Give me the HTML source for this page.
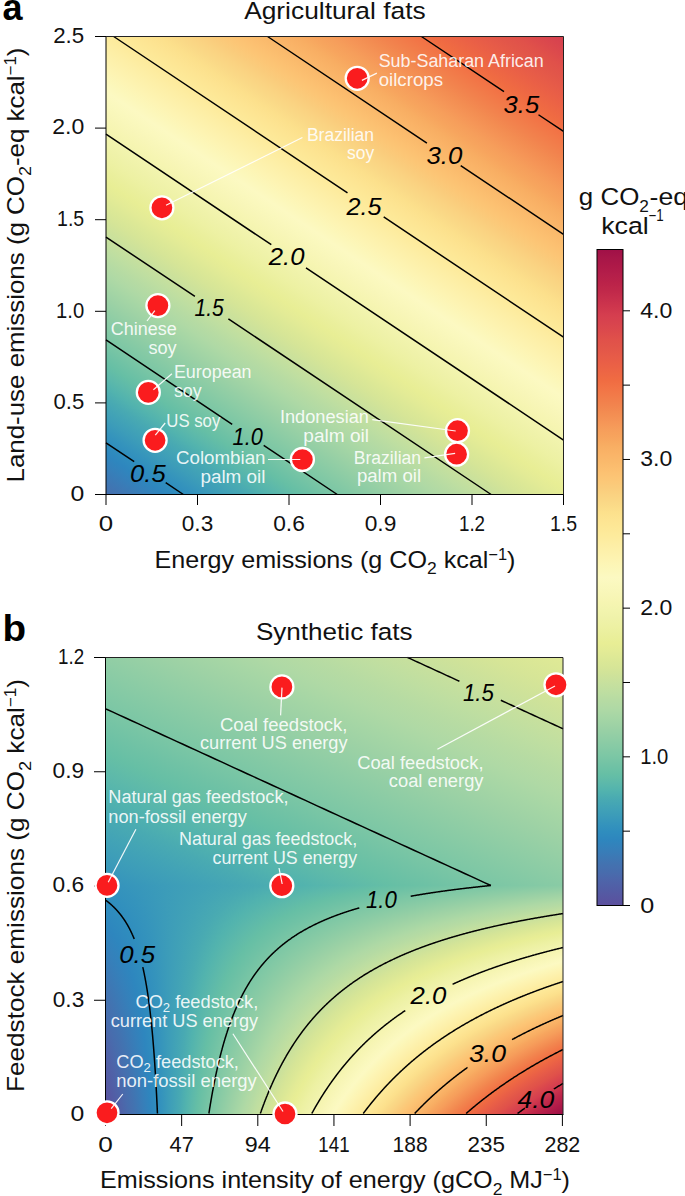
<!DOCTYPE html><html><head><meta charset="utf-8"><style>html,body{margin:0;padding:0;background:#fff;}svg{display:block;}text{font-family:"Liberation Sans",sans-serif;}</style></head><body>
<svg width="685" height="1196" viewBox="0 0 685 1196">
<rect width="685" height="1196" fill="#fff"/>
<defs>
<linearGradient id="cm" gradientUnits="userSpaceOnUse" x1="0" y1="0" x2="1" y2="0">
<stop offset="0.0000" stop-color="#5c509e"/>
<stop offset="0.0125" stop-color="#5756a1"/>
<stop offset="0.0250" stop-color="#525da5"/>
<stop offset="0.0375" stop-color="#4e64a9"/>
<stop offset="0.0500" stop-color="#486cad"/>
<stop offset="0.0625" stop-color="#4372b0"/>
<stop offset="0.0750" stop-color="#3c79b5"/>
<stop offset="0.0875" stop-color="#3580ba"/>
<stop offset="0.1000" stop-color="#2e86be"/>
<stop offset="0.1125" stop-color="#2f8dbe"/>
<stop offset="0.1250" stop-color="#3594bc"/>
<stop offset="0.1375" stop-color="#3c9cb9"/>
<stop offset="0.1500" stop-color="#42a3b6"/>
<stop offset="0.1625" stop-color="#49aab2"/>
<stop offset="0.1750" stop-color="#52b3ae"/>
<stop offset="0.1875" stop-color="#5db9aa"/>
<stop offset="0.2000" stop-color="#66bfa5"/>
<stop offset="0.2125" stop-color="#70c2a5"/>
<stop offset="0.2250" stop-color="#7ac6a5"/>
<stop offset="0.2375" stop-color="#83c9a5"/>
<stop offset="0.2500" stop-color="#8ccca5"/>
<stop offset="0.2625" stop-color="#95cfa5"/>
<stop offset="0.2750" stop-color="#9ed2a5"/>
<stop offset="0.2875" stop-color="#a6d6a5"/>
<stop offset="0.3000" stop-color="#afd9a5"/>
<stop offset="0.3125" stop-color="#b6dba3"/>
<stop offset="0.3250" stop-color="#bedea1"/>
<stop offset="0.3375" stop-color="#c6e09e"/>
<stop offset="0.3500" stop-color="#cee29a"/>
<stop offset="0.3625" stop-color="#d6e597"/>
<stop offset="0.3750" stop-color="#dce896"/>
<stop offset="0.3875" stop-color="#e3eb96"/>
<stop offset="0.4000" stop-color="#e8ee95"/>
<stop offset="0.4125" stop-color="#eaef9c"/>
<stop offset="0.4250" stop-color="#edf1a3"/>
<stop offset="0.4375" stop-color="#eff2a9"/>
<stop offset="0.4500" stop-color="#f2f4ae"/>
<stop offset="0.4625" stop-color="#f6f5b2"/>
<stop offset="0.4750" stop-color="#f8f6b8"/>
<stop offset="0.4875" stop-color="#faf8bd"/>
<stop offset="0.5000" stop-color="#fcf9c2"/>
<stop offset="0.5125" stop-color="#fcf7ba"/>
<stop offset="0.5250" stop-color="#fdf4b3"/>
<stop offset="0.5375" stop-color="#fdf1ac"/>
<stop offset="0.5500" stop-color="#fdeea5"/>
<stop offset="0.5625" stop-color="#fdeb9d"/>
<stop offset="0.5750" stop-color="#fde897"/>
<stop offset="0.5875" stop-color="#fde492"/>
<stop offset="0.6000" stop-color="#fce08c"/>
<stop offset="0.6125" stop-color="#fad987"/>
<stop offset="0.6250" stop-color="#fad382"/>
<stop offset="0.6375" stop-color="#facc7c"/>
<stop offset="0.6500" stop-color="#fcc676"/>
<stop offset="0.6625" stop-color="#fcc071"/>
<stop offset="0.6750" stop-color="#faba6c"/>
<stop offset="0.6875" stop-color="#fab468"/>
<stop offset="0.7000" stop-color="#f8ae63"/>
<stop offset="0.7125" stop-color="#f7a55e"/>
<stop offset="0.7250" stop-color="#f69e5b"/>
<stop offset="0.7375" stop-color="#f59557"/>
<stop offset="0.7500" stop-color="#f38d52"/>
<stop offset="0.7625" stop-color="#f2844e"/>
<stop offset="0.7750" stop-color="#f27c4a"/>
<stop offset="0.7875" stop-color="#f27446"/>
<stop offset="0.8000" stop-color="#f06c42"/>
<stop offset="0.8125" stop-color="#ed6644"/>
<stop offset="0.8250" stop-color="#ea6046"/>
<stop offset="0.8375" stop-color="#e65b48"/>
<stop offset="0.8500" stop-color="#e25649"/>
<stop offset="0.8625" stop-color="#e0514a"/>
<stop offset="0.8750" stop-color="#dc4a4c"/>
<stop offset="0.8875" stop-color="#d8444e"/>
<stop offset="0.9000" stop-color="#d53e4f"/>
<stop offset="0.9125" stop-color="#ce364d"/>
<stop offset="0.9250" stop-color="#c72f4c"/>
<stop offset="0.9375" stop-color="#c0284a"/>
<stop offset="0.9500" stop-color="#ba2249"/>
<stop offset="0.9625" stop-color="#b41e4a"/>
<stop offset="0.9750" stop-color="#ae1948"/>
<stop offset="0.9875" stop-color="#a71648"/>
<stop offset="1.0000" stop-color="#a01047"/>
</linearGradient>
<linearGradient id="ga" href="#cm" gradientUnits="userSpaceOnUse" x1="82.24" y1="529.75" x2="501.58" y2="-97.6"/>
<linearGradient id="gc" href="#cm" gradientUnits="userSpaceOnUse" x1="0" y1="905.5" x2="0" y2="249.5"/>
<linearGradient id="r0" href="#cm" x1="-833.9" x2="2818.02"/>
<linearGradient id="r1" href="#cm" x1="-831.72" x2="2820.2"/>
<linearGradient id="r2" href="#cm" x1="-829.54" x2="2822.38"/>
<linearGradient id="r3" href="#cm" x1="-827.36" x2="2824.56"/>
<linearGradient id="r4" href="#cm" x1="-825.17" x2="2826.74"/>
<linearGradient id="r5" href="#cm" x1="-822.99" x2="2828.92"/>
<linearGradient id="r6" href="#cm" x1="-820.81" x2="2831.1"/>
<linearGradient id="r7" href="#cm" x1="-818.63" x2="2833.28"/>
<linearGradient id="r8" href="#cm" x1="-816.45" x2="2835.46"/>
<linearGradient id="r9" href="#cm" x1="-814.27" x2="2837.64"/>
<linearGradient id="r10" href="#cm" x1="-812.09" x2="2839.82"/>
<linearGradient id="r11" href="#cm" x1="-809.91" x2="2842"/>
<linearGradient id="r12" href="#cm" x1="-807.73" x2="2844.18"/>
<linearGradient id="r13" href="#cm" x1="-805.55" x2="2846.36"/>
<linearGradient id="r14" href="#cm" x1="-803.37" x2="2848.54"/>
<linearGradient id="r15" href="#cm" x1="-801.19" x2="2850.72"/>
<linearGradient id="r16" href="#cm" x1="-799.01" x2="2852.9"/>
<linearGradient id="r17" href="#cm" x1="-796.83" x2="2855.08"/>
<linearGradient id="r18" href="#cm" x1="-794.65" x2="2857.26"/>
<linearGradient id="r19" href="#cm" x1="-792.47" x2="2859.44"/>
<linearGradient id="r20" href="#cm" x1="-790.29" x2="2861.62"/>
<linearGradient id="r21" href="#cm" x1="-788.11" x2="2863.8"/>
<linearGradient id="r22" href="#cm" x1="-785.93" x2="2865.98"/>
<linearGradient id="r23" href="#cm" x1="-783.75" x2="2868.16"/>
<linearGradient id="r24" href="#cm" x1="-781.57" x2="2870.34"/>
<linearGradient id="r25" href="#cm" x1="-779.39" x2="2872.52"/>
<linearGradient id="r26" href="#cm" x1="-777.21" x2="2874.7"/>
<linearGradient id="r27" href="#cm" x1="-775.03" x2="2876.88"/>
<linearGradient id="r28" href="#cm" x1="-772.85" x2="2879.06"/>
<linearGradient id="r29" href="#cm" x1="-770.67" x2="2881.24"/>
<linearGradient id="r30" href="#cm" x1="-768.49" x2="2883.42"/>
<linearGradient id="r31" href="#cm" x1="-766.31" x2="2885.6"/>
<linearGradient id="r32" href="#cm" x1="-764.13" x2="2887.78"/>
<linearGradient id="r33" href="#cm" x1="-761.95" x2="2889.96"/>
<linearGradient id="r34" href="#cm" x1="-759.77" x2="2892.14"/>
<linearGradient id="r35" href="#cm" x1="-757.59" x2="2894.32"/>
<linearGradient id="r36" href="#cm" x1="-755.41" x2="2896.5"/>
<linearGradient id="r37" href="#cm" x1="-753.23" x2="2898.68"/>
<linearGradient id="r38" href="#cm" x1="-751.05" x2="2900.87"/>
<linearGradient id="r39" href="#cm" x1="-748.87" x2="2903.05"/>
<linearGradient id="r40" href="#cm" x1="-746.69" x2="2905.23"/>
<linearGradient id="r41" href="#cm" x1="-744.51" x2="2907.41"/>
<linearGradient id="r42" href="#cm" x1="-742.33" x2="2909.59"/>
<linearGradient id="r43" href="#cm" x1="-740.15" x2="2911.77"/>
<linearGradient id="r44" href="#cm" x1="-737.97" x2="2913.95"/>
<linearGradient id="r45" href="#cm" x1="-735.79" x2="2916.13"/>
<linearGradient id="r46" href="#cm" x1="-733.6" x2="2918.31"/>
<linearGradient id="r47" href="#cm" x1="-731.42" x2="2920.49"/>
<linearGradient id="r48" href="#cm" x1="-729.24" x2="2922.67"/>
<linearGradient id="r49" href="#cm" x1="-727.06" x2="2924.85"/>
<linearGradient id="r50" href="#cm" x1="-724.88" x2="2927.03"/>
<linearGradient id="r51" href="#cm" x1="-722.7" x2="2929.21"/>
<linearGradient id="r52" href="#cm" x1="-720.52" x2="2931.39"/>
<linearGradient id="r53" href="#cm" x1="-718.34" x2="2933.57"/>
<linearGradient id="r54" href="#cm" x1="-716.16" x2="2935.75"/>
<linearGradient id="r55" href="#cm" x1="-713.98" x2="2937.93"/>
<linearGradient id="r56" href="#cm" x1="-711.8" x2="2940.11"/>
<linearGradient id="r57" href="#cm" x1="-709.62" x2="2942.29"/>
<linearGradient id="r58" href="#cm" x1="-707.44" x2="2944.47"/>
<linearGradient id="r59" href="#cm" x1="-705.26" x2="2946.65"/>
<linearGradient id="r60" href="#cm" x1="-703.08" x2="2948.83"/>
<linearGradient id="r61" href="#cm" x1="-700.9" x2="2951.01"/>
<linearGradient id="r62" href="#cm" x1="-698.72" x2="2953.19"/>
<linearGradient id="r63" href="#cm" x1="-696.54" x2="2955.37"/>
<linearGradient id="r64" href="#cm" x1="-694.36" x2="2957.55"/>
<linearGradient id="r65" href="#cm" x1="-692.18" x2="2959.73"/>
<linearGradient id="r66" href="#cm" x1="-690" x2="2961.91"/>
<linearGradient id="r67" href="#cm" x1="-687.82" x2="2964.09"/>
<linearGradient id="r68" href="#cm" x1="-685.64" x2="2966.27"/>
<linearGradient id="r69" href="#cm" x1="-683.46" x2="2968.45"/>
<linearGradient id="r70" href="#cm" x1="-681.28" x2="2970.63"/>
<linearGradient id="r71" href="#cm" x1="-679.1" x2="2972.81"/>
<linearGradient id="r72" href="#cm" x1="-676.92" x2="2974.99"/>
<linearGradient id="r73" href="#cm" x1="-674.74" x2="2977.17"/>
<linearGradient id="r74" href="#cm" x1="-672.56" x2="2979.35"/>
<linearGradient id="r75" href="#cm" x1="-670.38" x2="2981.53"/>
<linearGradient id="r76" href="#cm" x1="-668.2" x2="2983.71"/>
<linearGradient id="r77" href="#cm" x1="-666.02" x2="2985.89"/>
<linearGradient id="r78" href="#cm" x1="-663.84" x2="2988.07"/>
<linearGradient id="r79" href="#cm" x1="-661.66" x2="2990.26"/>
<linearGradient id="r80" href="#cm" x1="-659.48" x2="2992.44"/>
<linearGradient id="r81" href="#cm" x1="-657.3" x2="2994.62"/>
<linearGradient id="r82" href="#cm" x1="-655.12" x2="2996.8"/>
<linearGradient id="r83" href="#cm" x1="-652.94" x2="2998.98"/>
<linearGradient id="r84" href="#cm" x1="-650.76" x2="3001.16"/>
<linearGradient id="r85" href="#cm" x1="-648.58" x2="3003.34"/>
<linearGradient id="r86" href="#cm" x1="-646.4" x2="3005.52"/>
<linearGradient id="r87" href="#cm" x1="-644.21" x2="3007.7"/>
<linearGradient id="r88" href="#cm" x1="-642.03" x2="3009.88"/>
<linearGradient id="r89" href="#cm" x1="-639.85" x2="3012.06"/>
<linearGradient id="r90" href="#cm" x1="-637.67" x2="3014.24"/>
<linearGradient id="r91" href="#cm" x1="-635.49" x2="3016.42"/>
<linearGradient id="r92" href="#cm" x1="-633.31" x2="3018.6"/>
<linearGradient id="r93" href="#cm" x1="-631.13" x2="3020.78"/>
<linearGradient id="r94" href="#cm" x1="-628.95" x2="3022.96"/>
<linearGradient id="r95" href="#cm" x1="-626.77" x2="3025.14"/>
<linearGradient id="r96" href="#cm" x1="-624.59" x2="3027.32"/>
<linearGradient id="r97" href="#cm" x1="-622.41" x2="3029.5"/>
<linearGradient id="r98" href="#cm" x1="-620.23" x2="3031.68"/>
<linearGradient id="r99" href="#cm" x1="-618.05" x2="3033.86"/>
<linearGradient id="r100" href="#cm" x1="-615.87" x2="3036.04"/>
<linearGradient id="r101" href="#cm" x1="-613.69" x2="3038.22"/>
<linearGradient id="r102" href="#cm" x1="-611.51" x2="3040.4"/>
<linearGradient id="r103" href="#cm" x1="-609.33" x2="3042.58"/>
<linearGradient id="r104" href="#cm" x1="-607.15" x2="3044.76"/>
<linearGradient id="r105" href="#cm" x1="-604.97" x2="3046.94"/>
<linearGradient id="r106" href="#cm" x1="-602.79" x2="3049.12"/>
<linearGradient id="r107" href="#cm" x1="-600.61" x2="3051.3"/>
<linearGradient id="r108" href="#cm" x1="-598.43" x2="3053.48"/>
<linearGradient id="r109" href="#cm" x1="-596.25" x2="3055.66"/>
<linearGradient id="r110" href="#cm" x1="-594.07" x2="3057.84"/>
<linearGradient id="r111" href="#cm" x1="-591.89" x2="3060.02"/>
<linearGradient id="r112" href="#cm" x1="-589.71" x2="3062.2"/>
<linearGradient id="r113" href="#cm" x1="-587.53" x2="3064.38"/>
<linearGradient id="r114" href="#cm" x1="-585.35" x2="3066.56"/>
<linearGradient id="r115" href="#cm" x1="-583.17" x2="3068.74"/>
<linearGradient id="r116" href="#cm" x1="-580.99" x2="3070.92"/>
<linearGradient id="r117" href="#cm" x1="-578.81" x2="3073.1"/>
<linearGradient id="r118" href="#cm" x1="-576.63" x2="3075.28"/>
<linearGradient id="r119" href="#cm" x1="-574.45" x2="3077.46"/>
<linearGradient id="r120" href="#cm" x1="-572.27" x2="3079.65"/>
<linearGradient id="r121" href="#cm" x1="-570.09" x2="3081.83"/>
<linearGradient id="r122" href="#cm" x1="-567.91" x2="3084.01"/>
<linearGradient id="r123" href="#cm" x1="-565.73" x2="3086.19"/>
<linearGradient id="r124" href="#cm" x1="-563.55" x2="3088.37"/>
<linearGradient id="r125" href="#cm" x1="-561.37" x2="3090.55"/>
<linearGradient id="r126" href="#cm" x1="-559.19" x2="3092.73"/>
<linearGradient id="r127" href="#cm" x1="-557.01" x2="3094.91"/>
<linearGradient id="r128" href="#cm" x1="-554.82" x2="3097.09"/>
<linearGradient id="r129" href="#cm" x1="-552.64" x2="3099.27"/>
<linearGradient id="r130" href="#cm" x1="-550.46" x2="3101.45"/>
<linearGradient id="r131" href="#cm" x1="-548.28" x2="3103.63"/>
<linearGradient id="r132" href="#cm" x1="-546.1" x2="3105.81"/>
<linearGradient id="r133" href="#cm" x1="-543.92" x2="3107.99"/>
<linearGradient id="r134" href="#cm" x1="-541.74" x2="3110.17"/>
<linearGradient id="r135" href="#cm" x1="-539.56" x2="3112.35"/>
<linearGradient id="r136" href="#cm" x1="-537.38" x2="3114.53"/>
<linearGradient id="r137" href="#cm" x1="-535.2" x2="3116.71"/>
<linearGradient id="r138" href="#cm" x1="-533.02" x2="3118.89"/>
<linearGradient id="r139" href="#cm" x1="-530.84" x2="3121.07"/>
<linearGradient id="r140" href="#cm" x1="-528.66" x2="3123.25"/>
<linearGradient id="r141" href="#cm" x1="-526.48" x2="3125.43"/>
<linearGradient id="r142" href="#cm" x1="-524.3" x2="3127.61"/>
<linearGradient id="r143" href="#cm" x1="-522.12" x2="3129.79"/>
<linearGradient id="r144" href="#cm" x1="-519.94" x2="3131.97"/>
<linearGradient id="r145" href="#cm" x1="-517.76" x2="3134.15"/>
<linearGradient id="r146" href="#cm" x1="-515.58" x2="3136.33"/>
<linearGradient id="r147" href="#cm" x1="-513.4" x2="3138.51"/>
<linearGradient id="r148" href="#cm" x1="-511.22" x2="3140.69"/>
<linearGradient id="r149" href="#cm" x1="-509.04" x2="3142.87"/>
<linearGradient id="r150" href="#cm" x1="-506.86" x2="3145.05"/>
<linearGradient id="r151" href="#cm" x1="-504.68" x2="3147.23"/>
<linearGradient id="r152" href="#cm" x1="-502.5" x2="3149.41"/>
<linearGradient id="r153" href="#cm" x1="-500.32" x2="3151.59"/>
<linearGradient id="r154" href="#cm" x1="-498.14" x2="3153.77"/>
<linearGradient id="r155" href="#cm" x1="-495.96" x2="3155.95"/>
<linearGradient id="r156" href="#cm" x1="-493.78" x2="3158.13"/>
<linearGradient id="r157" href="#cm" x1="-491.6" x2="3160.31"/>
<linearGradient id="r158" href="#cm" x1="-489.42" x2="3162.49"/>
<linearGradient id="r159" href="#cm" x1="-487.24" x2="3164.67"/>
<linearGradient id="r160" href="#cm" x1="-485.06" x2="3166.85"/>
<linearGradient id="r161" href="#cm" x1="-482.88" x2="3169.04"/>
<linearGradient id="r162" href="#cm" x1="-480.7" x2="3171.22"/>
<linearGradient id="r163" href="#cm" x1="-478.52" x2="3173.4"/>
<linearGradient id="r164" href="#cm" x1="-476.34" x2="3175.58"/>
<linearGradient id="r165" href="#cm" x1="-474.16" x2="3177.76"/>
<linearGradient id="r166" href="#cm" x1="-471.98" x2="3179.94"/>
<linearGradient id="r167" href="#cm" x1="-469.8" x2="3182.12"/>
<linearGradient id="r168" href="#cm" x1="-467.62" x2="3184.3"/>
<linearGradient id="r169" href="#cm" x1="-465.43" x2="3186.48"/>
<linearGradient id="r170" href="#cm" x1="-463.25" x2="3188.66"/>
<linearGradient id="r171" href="#cm" x1="-461.07" x2="3190.84"/>
<linearGradient id="r172" href="#cm" x1="-458.89" x2="3193.02"/>
<linearGradient id="r173" href="#cm" x1="-456.71" x2="3195.2"/>
<linearGradient id="r174" href="#cm" x1="-454.53" x2="3197.38"/>
<linearGradient id="r175" href="#cm" x1="-452.35" x2="3199.56"/>
<linearGradient id="r176" href="#cm" x1="-450.17" x2="3201.74"/>
<linearGradient id="r177" href="#cm" x1="-447.99" x2="3203.92"/>
<linearGradient id="r178" href="#cm" x1="-445.81" x2="3206.1"/>
<linearGradient id="r179" href="#cm" x1="-443.63" x2="3208.28"/>
<linearGradient id="r180" href="#cm" x1="-441.45" x2="3210.46"/>
<linearGradient id="r181" href="#cm" x1="-439.27" x2="3212.64"/>
<linearGradient id="r182" href="#cm" x1="-437.09" x2="3214.82"/>
<linearGradient id="r183" href="#cm" x1="-434.91" x2="3217"/>
<linearGradient id="r184" href="#cm" x1="-432.73" x2="3219.18"/>
<linearGradient id="r185" href="#cm" x1="-430.55" x2="3221.36"/>
<linearGradient id="r186" href="#cm" x1="-428.37" x2="3223.54"/>
<linearGradient id="r187" href="#cm" x1="-426.19" x2="3225.72"/>
<linearGradient id="r188" href="#cm" x1="-424.01" x2="3227.9"/>
<linearGradient id="r189" href="#cm" x1="-421.83" x2="3230.08"/>
<linearGradient id="r190" href="#cm" x1="-419.65" x2="3232.26"/>
<linearGradient id="r191" href="#cm" x1="-417.47" x2="3234.44"/>
<linearGradient id="r192" href="#cm" x1="-415.29" x2="3236.62"/>
<linearGradient id="r193" href="#cm" x1="-413.11" x2="3238.8"/>
<linearGradient id="r194" href="#cm" x1="-410.93" x2="3240.98"/>
<linearGradient id="r195" href="#cm" x1="-408.75" x2="3243.16"/>
<linearGradient id="r196" href="#cm" x1="-406.57" x2="3245.34"/>
<linearGradient id="r197" href="#cm" x1="-404.39" x2="3247.52"/>
<linearGradient id="r198" href="#cm" x1="-402.21" x2="3249.7"/>
<linearGradient id="r199" href="#cm" x1="-400.03" x2="3251.88"/>
<linearGradient id="r200" href="#cm" x1="-397.85" x2="3254.06"/>
<linearGradient id="r201" href="#cm" x1="-395.67" x2="3256.24"/>
<linearGradient id="r202" href="#cm" x1="-393.49" x2="3258.43"/>
<linearGradient id="r203" href="#cm" x1="-391.31" x2="3260.61"/>
<linearGradient id="r204" href="#cm" x1="-389.13" x2="3262.79"/>
<linearGradient id="r205" href="#cm" x1="-386.95" x2="3264.97"/>
<linearGradient id="r206" href="#cm" x1="-384.77" x2="3267.15"/>
<linearGradient id="r207" href="#cm" x1="-382.59" x2="3269.33"/>
<linearGradient id="r208" href="#cm" x1="-380.41" x2="3271.51"/>
<linearGradient id="r209" href="#cm" x1="-378.23" x2="3273.69"/>
<linearGradient id="r210" href="#cm" x1="-376.04" x2="3275.87"/>
<linearGradient id="r211" href="#cm" x1="-373.86" x2="3278.05"/>
<linearGradient id="r212" href="#cm" x1="-371.68" x2="3280.23"/>
<linearGradient id="r213" href="#cm" x1="-369.5" x2="3282.41"/>
<linearGradient id="r214" href="#cm" x1="-367.32" x2="3284.59"/>
<linearGradient id="r215" href="#cm" x1="-365.14" x2="3286.77"/>
<linearGradient id="r216" href="#cm" x1="-362.96" x2="3288.95"/>
<linearGradient id="r217" href="#cm" x1="-360.78" x2="3291.13"/>
<linearGradient id="r218" href="#cm" x1="-358.6" x2="3293.31"/>
<linearGradient id="r219" href="#cm" x1="-356.42" x2="3295.49"/>
<linearGradient id="r220" href="#cm" x1="-354.24" x2="3297.67"/>
<linearGradient id="r221" href="#cm" x1="-352.06" x2="3299.85"/>
<linearGradient id="r222" href="#cm" x1="-349.88" x2="3302.03"/>
<linearGradient id="r223" href="#cm" x1="-347.7" x2="3304.21"/>
<linearGradient id="r224" href="#cm" x1="-345.52" x2="3306.39"/>
<linearGradient id="r225" href="#cm" x1="-343.34" x2="3308.57"/>
<linearGradient id="r226" href="#cm" x1="-341.16" x2="3310.75"/>
<linearGradient id="r227" href="#cm" x1="-338.98" x2="3312.93"/>
<linearGradient id="r228" href="#cm" x1="-336.8" x2="3315.11"/>
<linearGradient id="r229" href="#cm" x1="-321.65" x2="3220.82"/>
<linearGradient id="r230" href="#cm" x1="-307.37" x2="3132.02"/>
<linearGradient id="r231" href="#cm" x1="-293.91" x2="3048.24"/>
<linearGradient id="r232" href="#cm" x1="-281.18" x2="2969.07"/>
<linearGradient id="r233" href="#cm" x1="-269.14" x2="2894.13"/>
<linearGradient id="r234" href="#cm" x1="-257.73" x2="2823.1"/>
<linearGradient id="r235" href="#cm" x1="-246.89" x2="2755.68"/>
<linearGradient id="r236" href="#cm" x1="-236.59" x2="2691.6"/>
<linearGradient id="r237" href="#cm" x1="-226.79" x2="2630.62"/>
<linearGradient id="r238" href="#cm" x1="-217.45" x2="2572.52"/>
<linearGradient id="r239" href="#cm" x1="-208.54" x2="2517.09"/>
<linearGradient id="r240" href="#cm" x1="-200.04" x2="2464.17"/>
<linearGradient id="r241" href="#cm" x1="-191.91" x2="2413.57"/>
<linearGradient id="r242" href="#cm" x1="-184.13" x2="2365.16"/>
<linearGradient id="r243" href="#cm" x1="-176.67" x2="2318.8"/>
<linearGradient id="r244" href="#cm" x1="-169.53" x2="2274.35"/>
<linearGradient id="r245" href="#cm" x1="-162.68" x2="2231.7"/>
<linearGradient id="r246" href="#cm" x1="-156.09" x2="2190.74"/>
<linearGradient id="r247" href="#cm" x1="-149.77" x2="2151.38"/>
<linearGradient id="r248" href="#cm" x1="-143.68" x2="2113.53"/>
<linearGradient id="r249" href="#cm" x1="-137.83" x2="2077.09"/>
<linearGradient id="r250" href="#cm" x1="-132.19" x2="2041.99"/>
<linearGradient id="r251" href="#cm" x1="-126.75" x2="2008.16"/>
<linearGradient id="r252" href="#cm" x1="-121.5" x2="1975.53"/>
<linearGradient id="r253" href="#cm" x1="-116.44" x2="1944.04"/>
<linearGradient id="r254" href="#cm" x1="-111.55" x2="1913.62"/>
<linearGradient id="r255" href="#cm" x1="-106.83" x2="1884.24"/>
<linearGradient id="r256" href="#cm" x1="-102.26" x2="1855.82"/>
<linearGradient id="r257" href="#cm" x1="-97.85" x2="1828.33"/>
<linearGradient id="r258" href="#cm" x1="-93.57" x2="1801.72"/>
<linearGradient id="r259" href="#cm" x1="-89.43" x2="1775.96"/>
<linearGradient id="r260" href="#cm" x1="-85.42" x2="1750.99"/>
<linearGradient id="r261" href="#cm" x1="-81.53" x2="1726.79"/>
<linearGradient id="r262" href="#cm" x1="-77.75" x2="1703.31"/>
<linearGradient id="r263" href="#cm" x1="-74.09" x2="1680.53"/>
<linearGradient id="r264" href="#cm" x1="-70.54" x2="1658.42"/>
<linearGradient id="r265" href="#cm" x1="-67.09" x2="1636.95"/>
<linearGradient id="r266" href="#cm" x1="-63.73" x2="1616.09"/>
<linearGradient id="r267" href="#cm" x1="-60.48" x2="1595.81"/>
<linearGradient id="r268" href="#cm" x1="-57.31" x2="1576.09"/>
<linearGradient id="r269" href="#cm" x1="-54.22" x2="1556.91"/>
<linearGradient id="r270" href="#cm" x1="-51.22" x2="1538.25"/>
<linearGradient id="r271" href="#cm" x1="-48.3" x2="1520.08"/>
<linearGradient id="r272" href="#cm" x1="-45.46" x2="1502.38"/>
<linearGradient id="r273" href="#cm" x1="-42.69" x2="1485.15"/>
<linearGradient id="r274" href="#cm" x1="-39.99" x2="1468.35"/>
<linearGradient id="r275" href="#cm" x1="-37.36" x2="1451.98"/>
<linearGradient id="r276" href="#cm" x1="-34.79" x2="1436.01"/>
<linearGradient id="r277" href="#cm" x1="-32.29" x2="1420.44"/>
<linearGradient id="r278" href="#cm" x1="-29.85" x2="1405.25"/>
<linearGradient id="r279" href="#cm" x1="-27.46" x2="1390.42"/>
<linearGradient id="r280" href="#cm" x1="-25.14" x2="1375.94"/>
<linearGradient id="r281" href="#cm" x1="-22.86" x2="1361.8"/>
<linearGradient id="r282" href="#cm" x1="-20.65" x2="1347.98"/>
<linearGradient id="r283" href="#cm" x1="-18.48" x2="1334.49"/>
<linearGradient id="r284" href="#cm" x1="-16.36" x2="1321.3"/>
<linearGradient id="r285" href="#cm" x1="-14.28" x2="1308.4"/>
<linearGradient id="r286" href="#cm" x1="-12.26" x2="1295.79"/>
<linearGradient id="r287" href="#cm" x1="-10.27" x2="1283.46"/>
<linearGradient id="r288" href="#cm" x1="-8.34" x2="1271.39"/>
<linearGradient id="r289" href="#cm" x1="-6.44" x2="1259.58"/>
<linearGradient id="r290" href="#cm" x1="-4.58" x2="1248.03"/>
<linearGradient id="r291" href="#cm" x1="-2.76" x2="1236.71"/>
<linearGradient id="r292" href="#cm" x1="-0.98" x2="1225.63"/>
<linearGradient id="r293" href="#cm" x1="0.76" x2="1214.78"/>
<linearGradient id="r294" href="#cm" x1="2.47" x2="1204.14"/>
<linearGradient id="r295" href="#cm" x1="4.15" x2="1193.72"/>
<linearGradient id="r296" href="#cm" x1="5.79" x2="1183.51"/>
<linearGradient id="r297" href="#cm" x1="7.4" x2="1173.5"/>
<linearGradient id="r298" href="#cm" x1="8.97" x2="1163.69"/>
<linearGradient id="r299" href="#cm" x1="10.52" x2="1154.07"/>
<linearGradient id="r300" href="#cm" x1="12.04" x2="1144.63"/>
<linearGradient id="r301" href="#cm" x1="13.53" x2="1135.37"/>
<linearGradient id="r302" href="#cm" x1="14.99" x2="1126.28"/>
<linearGradient id="r303" href="#cm" x1="16.42" x2="1117.36"/>
<linearGradient id="r304" href="#cm" x1="17.83" x2="1108.61"/>
<linearGradient id="r305" href="#cm" x1="19.21" x2="1100.02"/>
<linearGradient id="r306" href="#cm" x1="20.56" x2="1091.58"/>
<linearGradient id="r307" href="#cm" x1="21.9" x2="1083.3"/>
<linearGradient id="r308" href="#cm" x1="23.2" x2="1075.16"/>
<linearGradient id="r309" href="#cm" x1="24.49" x2="1067.16"/>
<linearGradient id="r310" href="#cm" x1="25.75" x2="1059.31"/>
<linearGradient id="r311" href="#cm" x1="26.99" x2="1051.59"/>
<linearGradient id="r312" href="#cm" x1="28.21" x2="1044"/>
<linearGradient id="r313" href="#cm" x1="29.41" x2="1036.55"/>
<linearGradient id="r314" href="#cm" x1="30.59" x2="1029.22"/>
<linearGradient id="r315" href="#cm" x1="31.75" x2="1022.01"/>
<linearGradient id="r316" href="#cm" x1="32.88" x2="1014.92"/>
<linearGradient id="r317" href="#cm" x1="34" x2="1007.95"/>
<linearGradient id="r318" href="#cm" x1="35.11" x2="1001.09"/>
<linearGradient id="r319" href="#cm" x1="36.19" x2="994.35"/>
<linearGradient id="r320" href="#cm" x1="37.26" x2="987.71"/>
<linearGradient id="r321" href="#cm" x1="38.31" x2="981.18"/>
<linearGradient id="r322" href="#cm" x1="39.34" x2="974.75"/>
<linearGradient id="r323" href="#cm" x1="40.36" x2="968.42"/>
<linearGradient id="r324" href="#cm" x1="41.36" x2="962.2"/>
<linearGradient id="r325" href="#cm" x1="42.34" x2="956.06"/>
<linearGradient id="r326" href="#cm" x1="43.31" x2="950.02"/>
<linearGradient id="r327" href="#cm" x1="44.27" x2="944.08"/>
<linearGradient id="r328" href="#cm" x1="45.21" x2="938.22"/>
<linearGradient id="r329" href="#cm" x1="46.14" x2="932.45"/>
<linearGradient id="r330" href="#cm" x1="47.05" x2="926.77"/>
<linearGradient id="r331" href="#cm" x1="47.95" x2="921.17"/>
<linearGradient id="r332" href="#cm" x1="48.84" x2="915.66"/>
<linearGradient id="r333" href="#cm" x1="49.71" x2="910.22"/>
<linearGradient id="r334" href="#cm" x1="50.57" x2="904.86"/>
<linearGradient id="r335" href="#cm" x1="51.42" x2="899.58"/>
<linearGradient id="r336" href="#cm" x1="52.26" x2="894.37"/>
<linearGradient id="r337" href="#cm" x1="53.08" x2="889.24"/>
<linearGradient id="r338" href="#cm" x1="53.9" x2="884.18"/>
<linearGradient id="r339" href="#cm" x1="54.7" x2="879.19"/>
<linearGradient id="r340" href="#cm" x1="55.49" x2="874.27"/>
<linearGradient id="r341" href="#cm" x1="56.27" x2="869.42"/>
<linearGradient id="r342" href="#cm" x1="57.04" x2="864.63"/>
<linearGradient id="r343" href="#cm" x1="57.8" x2="859.91"/>
<linearGradient id="r344" href="#cm" x1="58.55" x2="855.25"/>
<linearGradient id="r345" href="#cm" x1="59.28" x2="850.66"/>
<linearGradient id="r346" href="#cm" x1="60.01" x2="846.13"/>
<linearGradient id="r347" href="#cm" x1="60.73" x2="841.65"/>
<linearGradient id="r348" href="#cm" x1="61.44" x2="837.24"/>
<linearGradient id="r349" href="#cm" x1="62.14" x2="832.88"/>
<linearGradient id="r350" href="#cm" x1="62.83" x2="828.58"/>
<linearGradient id="r351" href="#cm" x1="63.52" x2="824.33"/>
<linearGradient id="r352" href="#cm" x1="64.19" x2="820.14"/>
<linearGradient id="r353" href="#cm" x1="64.86" x2="816"/>
<linearGradient id="r354" href="#cm" x1="65.51" x2="811.91"/>
<linearGradient id="r355" href="#cm" x1="66.16" x2="807.88"/>
<linearGradient id="r356" href="#cm" x1="66.8" x2="803.89"/>
<linearGradient id="r357" href="#cm" x1="67.43" x2="799.96"/>
<linearGradient id="r358" href="#cm" x1="68.06" x2="796.07"/>
<linearGradient id="r359" href="#cm" x1="68.68" x2="792.23"/>
<linearGradient id="r360" href="#cm" x1="69.28" x2="788.44"/>
<linearGradient id="r361" href="#cm" x1="69.89" x2="784.69"/>
<linearGradient id="r362" href="#cm" x1="70.48" x2="780.99"/>
<linearGradient id="r363" href="#cm" x1="71.07" x2="777.33"/>
<linearGradient id="r364" href="#cm" x1="71.65" x2="773.72"/>
<linearGradient id="r365" href="#cm" x1="72.22" x2="770.15"/>
<linearGradient id="r366" href="#cm" x1="72.79" x2="766.62"/>
<linearGradient id="r367" href="#cm" x1="73.35" x2="763.13"/>
<linearGradient id="r368" href="#cm" x1="73.91" x2="759.68"/>
<linearGradient id="r369" href="#cm" x1="74.45" x2="756.28"/>
<linearGradient id="r370" href="#cm" x1="75" x2="752.91"/>
<linearGradient id="r371" href="#cm" x1="75.53" x2="749.58"/>
<linearGradient id="r372" href="#cm" x1="76.06" x2="746.28"/>
<linearGradient id="r373" href="#cm" x1="76.58" x2="743.03"/>
<linearGradient id="r374" href="#cm" x1="77.1" x2="739.81"/>
<linearGradient id="r375" href="#cm" x1="77.61" x2="736.63"/>
<linearGradient id="r376" href="#cm" x1="78.12" x2="733.48"/>
<linearGradient id="r377" href="#cm" x1="78.62" x2="730.37"/>
<linearGradient id="r378" href="#cm" x1="79.11" x2="727.29"/>
<linearGradient id="r379" href="#cm" x1="79.6" x2="724.24"/>
<linearGradient id="r380" href="#cm" x1="80.09" x2="721.23"/>
<linearGradient id="r381" href="#cm" x1="80.57" x2="718.25"/>
<linearGradient id="r382" href="#cm" x1="81.04" x2="715.3"/>
<linearGradient id="r383" href="#cm" x1="81.51" x2="712.38"/>
<linearGradient id="r384" href="#cm" x1="81.97" x2="709.5"/>
<linearGradient id="r385" href="#cm" x1="82.43" x2="706.64"/>
<linearGradient id="r386" href="#cm" x1="82.88" x2="703.82"/>
<linearGradient id="r387" href="#cm" x1="83.33" x2="701.02"/>
<linearGradient id="r388" href="#cm" x1="83.78" x2="698.26"/>
<linearGradient id="r389" href="#cm" x1="84.22" x2="695.52"/>
<linearGradient id="r390" href="#cm" x1="84.65" x2="692.81"/>
<linearGradient id="r391" href="#cm" x1="85.09" x2="690.13"/>
<linearGradient id="r392" href="#cm" x1="85.51" x2="687.47"/>
<linearGradient id="r393" href="#cm" x1="85.93" x2="684.85"/>
<linearGradient id="r394" href="#cm" x1="86.35" x2="682.25"/>
<linearGradient id="r395" href="#cm" x1="86.77" x2="679.67"/>
<linearGradient id="r396" href="#cm" x1="87.18" x2="677.12"/>
<linearGradient id="r397" href="#cm" x1="87.58" x2="674.6"/>
<linearGradient id="r398" href="#cm" x1="87.98" x2="672.1"/>
<linearGradient id="r399" href="#cm" x1="88.38" x2="669.62"/>
<linearGradient id="r400" href="#cm" x1="88.77" x2="667.17"/>
<linearGradient id="r401" href="#cm" x1="89.16" x2="664.75"/>
<linearGradient id="r402" href="#cm" x1="89.55" x2="662.34"/>
<linearGradient id="r403" href="#cm" x1="89.93" x2="659.96"/>
<linearGradient id="r404" href="#cm" x1="90.31" x2="657.61"/>
<linearGradient id="r405" href="#cm" x1="90.69" x2="655.27"/>
<linearGradient id="r406" href="#cm" x1="91.06" x2="652.96"/>
<linearGradient id="r407" href="#cm" x1="91.43" x2="650.67"/>
<linearGradient id="r408" href="#cm" x1="91.79" x2="648.4"/>
<linearGradient id="r409" href="#cm" x1="92.15" x2="646.15"/>
<linearGradient id="r410" href="#cm" x1="92.51" x2="643.93"/>
<linearGradient id="r411" href="#cm" x1="92.87" x2="641.72"/>
<linearGradient id="r412" href="#cm" x1="93.22" x2="639.54"/>
<linearGradient id="r413" href="#cm" x1="93.56" x2="637.37"/>
<linearGradient id="r414" href="#cm" x1="93.91" x2="635.23"/>
<linearGradient id="r415" href="#cm" x1="94.25" x2="633.1"/>
<linearGradient id="r416" href="#cm" x1="94.59" x2="630.99"/>
<linearGradient id="r417" href="#cm" x1="94.93" x2="628.91"/>
<linearGradient id="r418" href="#cm" x1="95.26" x2="626.84"/>
<linearGradient id="r419" href="#cm" x1="95.59" x2="624.79"/>
<linearGradient id="r420" href="#cm" x1="95.91" x2="622.75"/>
<linearGradient id="r421" href="#cm" x1="96.24" x2="620.74"/>
<linearGradient id="r422" href="#cm" x1="96.56" x2="618.74"/>
<linearGradient id="r423" href="#cm" x1="96.88" x2="616.77"/>
<linearGradient id="r424" href="#cm" x1="97.19" x2="614.8"/>
<linearGradient id="r425" href="#cm" x1="97.5" x2="612.86"/>
<linearGradient id="r426" href="#cm" x1="97.81" x2="610.93"/>
<linearGradient id="r427" href="#cm" x1="98.12" x2="609.02"/>
<linearGradient id="r428" href="#cm" x1="98.43" x2="607.13"/>
<linearGradient id="r429" href="#cm" x1="98.73" x2="605.25"/>
<linearGradient id="r430" href="#cm" x1="99.03" x2="603.39"/>
<linearGradient id="r431" href="#cm" x1="99.32" x2="601.54"/>
<linearGradient id="r432" href="#cm" x1="99.62" x2="599.71"/>
<linearGradient id="r433" href="#cm" x1="99.91" x2="597.9"/>
<linearGradient id="r434" href="#cm" x1="100.2" x2="596.1"/>
<linearGradient id="r435" href="#cm" x1="100.48" x2="594.31"/>
<linearGradient id="r436" href="#cm" x1="100.77" x2="592.54"/>
<linearGradient id="r437" href="#cm" x1="101.05" x2="590.79"/>
<linearGradient id="r438" href="#cm" x1="101.33" x2="589.04"/>
<linearGradient id="r439" href="#cm" x1="101.61" x2="587.32"/>
<linearGradient id="r440" href="#cm" x1="101.88" x2="585.61"/>
<linearGradient id="r441" href="#cm" x1="102.16" x2="583.91"/>
<linearGradient id="r442" href="#cm" x1="102.43" x2="582.22"/>
<linearGradient id="r443" href="#cm" x1="102.7" x2="580.55"/>
<linearGradient id="r444" href="#cm" x1="102.96" x2="578.89"/>
<linearGradient id="r445" href="#cm" x1="103.23" x2="577.25"/>
<linearGradient id="r446" href="#cm" x1="103.49" x2="575.62"/>
<linearGradient id="r447" href="#cm" x1="103.75" x2="574"/>
<linearGradient id="r448" href="#cm" x1="104.01" x2="572.4"/>
<linearGradient id="r449" href="#cm" x1="104.26" x2="570.8"/>
<linearGradient id="r450" href="#cm" x1="104.52" x2="569.22"/>
<linearGradient id="r451" href="#cm" x1="104.77" x2="567.65"/>
<linearGradient id="r452" href="#cm" x1="105.02" x2="566.1"/>
<linearGradient id="r453" href="#cm" x1="105.27" x2="564.56"/>
<linearGradient id="r454" href="#cm" x1="105.51" x2="563.02"/>
<linearGradient id="r455" href="#cm" x1="105.76" x2="561.5"/>
<linearGradient id="r456" href="#cm" x1="106" x2="560"/>
</defs>
<rect x="106" y="36.5" width="457.5" height="458" fill="url(#ga)"/>
<g stroke="#000" stroke-width="1.5" fill="none" stroke-linecap="butt">
<path d="M106 442.77L134.2 461.62M165.7 482.68L183.38 494.5"/>
<path d="M106 339.92L232.2 424.28M263.7 445.33L337.26 494.5"/>
<path d="M106 237.07L194.9 296.49M228.4 318.88L491.13 494.5"/>
<path d="M106 134.21L271.3 244.7M306 267.9L563.5 440.02"/>
<path d="M113.69 36.5L347.5 192.79M383.7 216.98L563.5 337.17"/>
<path d="M267.57 36.5L426.9 143.01M460.7 165.6L563.5 234.31"/>
<path d="M421.44 36.5L504 91.69M538.5 114.75L563.5 131.46"/>
</g>
<g shape-rendering="crispEdges">
<rect x="106" y="657" width="457" height="1" fill="url(#r0)"/>
<rect x="106" y="658" width="457" height="1" fill="url(#r1)"/>
<rect x="106" y="659" width="457" height="1" fill="url(#r2)"/>
<rect x="106" y="660" width="457" height="1" fill="url(#r3)"/>
<rect x="106" y="661" width="457" height="1" fill="url(#r4)"/>
<rect x="106" y="662" width="457" height="1" fill="url(#r5)"/>
<rect x="106" y="663" width="457" height="1" fill="url(#r6)"/>
<rect x="106" y="664" width="457" height="1" fill="url(#r7)"/>
<rect x="106" y="665" width="457" height="1" fill="url(#r8)"/>
<rect x="106" y="666" width="457" height="1" fill="url(#r9)"/>
<rect x="106" y="667" width="457" height="1" fill="url(#r10)"/>
<rect x="106" y="668" width="457" height="1" fill="url(#r11)"/>
<rect x="106" y="669" width="457" height="1" fill="url(#r12)"/>
<rect x="106" y="670" width="457" height="1" fill="url(#r13)"/>
<rect x="106" y="671" width="457" height="1" fill="url(#r14)"/>
<rect x="106" y="672" width="457" height="1" fill="url(#r15)"/>
<rect x="106" y="673" width="457" height="1" fill="url(#r16)"/>
<rect x="106" y="674" width="457" height="1" fill="url(#r17)"/>
<rect x="106" y="675" width="457" height="1" fill="url(#r18)"/>
<rect x="106" y="676" width="457" height="1" fill="url(#r19)"/>
<rect x="106" y="677" width="457" height="1" fill="url(#r20)"/>
<rect x="106" y="678" width="457" height="1" fill="url(#r21)"/>
<rect x="106" y="679" width="457" height="1" fill="url(#r22)"/>
<rect x="106" y="680" width="457" height="1" fill="url(#r23)"/>
<rect x="106" y="681" width="457" height="1" fill="url(#r24)"/>
<rect x="106" y="682" width="457" height="1" fill="url(#r25)"/>
<rect x="106" y="683" width="457" height="1" fill="url(#r26)"/>
<rect x="106" y="684" width="457" height="1" fill="url(#r27)"/>
<rect x="106" y="685" width="457" height="1" fill="url(#r28)"/>
<rect x="106" y="686" width="457" height="1" fill="url(#r29)"/>
<rect x="106" y="687" width="457" height="1" fill="url(#r30)"/>
<rect x="106" y="688" width="457" height="1" fill="url(#r31)"/>
<rect x="106" y="689" width="457" height="1" fill="url(#r32)"/>
<rect x="106" y="690" width="457" height="1" fill="url(#r33)"/>
<rect x="106" y="691" width="457" height="1" fill="url(#r34)"/>
<rect x="106" y="692" width="457" height="1" fill="url(#r35)"/>
<rect x="106" y="693" width="457" height="1" fill="url(#r36)"/>
<rect x="106" y="694" width="457" height="1" fill="url(#r37)"/>
<rect x="106" y="695" width="457" height="1" fill="url(#r38)"/>
<rect x="106" y="696" width="457" height="1" fill="url(#r39)"/>
<rect x="106" y="697" width="457" height="1" fill="url(#r40)"/>
<rect x="106" y="698" width="457" height="1" fill="url(#r41)"/>
<rect x="106" y="699" width="457" height="1" fill="url(#r42)"/>
<rect x="106" y="700" width="457" height="1" fill="url(#r43)"/>
<rect x="106" y="701" width="457" height="1" fill="url(#r44)"/>
<rect x="106" y="702" width="457" height="1" fill="url(#r45)"/>
<rect x="106" y="703" width="457" height="1" fill="url(#r46)"/>
<rect x="106" y="704" width="457" height="1" fill="url(#r47)"/>
<rect x="106" y="705" width="457" height="1" fill="url(#r48)"/>
<rect x="106" y="706" width="457" height="1" fill="url(#r49)"/>
<rect x="106" y="707" width="457" height="1" fill="url(#r50)"/>
<rect x="106" y="708" width="457" height="1" fill="url(#r51)"/>
<rect x="106" y="709" width="457" height="1" fill="url(#r52)"/>
<rect x="106" y="710" width="457" height="1" fill="url(#r53)"/>
<rect x="106" y="711" width="457" height="1" fill="url(#r54)"/>
<rect x="106" y="712" width="457" height="1" fill="url(#r55)"/>
<rect x="106" y="713" width="457" height="1" fill="url(#r56)"/>
<rect x="106" y="714" width="457" height="1" fill="url(#r57)"/>
<rect x="106" y="715" width="457" height="1" fill="url(#r58)"/>
<rect x="106" y="716" width="457" height="1" fill="url(#r59)"/>
<rect x="106" y="717" width="457" height="1" fill="url(#r60)"/>
<rect x="106" y="718" width="457" height="1" fill="url(#r61)"/>
<rect x="106" y="719" width="457" height="1" fill="url(#r62)"/>
<rect x="106" y="720" width="457" height="1" fill="url(#r63)"/>
<rect x="106" y="721" width="457" height="1" fill="url(#r64)"/>
<rect x="106" y="722" width="457" height="1" fill="url(#r65)"/>
<rect x="106" y="723" width="457" height="1" fill="url(#r66)"/>
<rect x="106" y="724" width="457" height="1" fill="url(#r67)"/>
<rect x="106" y="725" width="457" height="1" fill="url(#r68)"/>
<rect x="106" y="726" width="457" height="1" fill="url(#r69)"/>
<rect x="106" y="727" width="457" height="1" fill="url(#r70)"/>
<rect x="106" y="728" width="457" height="1" fill="url(#r71)"/>
<rect x="106" y="729" width="457" height="1" fill="url(#r72)"/>
<rect x="106" y="730" width="457" height="1" fill="url(#r73)"/>
<rect x="106" y="731" width="457" height="1" fill="url(#r74)"/>
<rect x="106" y="732" width="457" height="1" fill="url(#r75)"/>
<rect x="106" y="733" width="457" height="1" fill="url(#r76)"/>
<rect x="106" y="734" width="457" height="1" fill="url(#r77)"/>
<rect x="106" y="735" width="457" height="1" fill="url(#r78)"/>
<rect x="106" y="736" width="457" height="1" fill="url(#r79)"/>
<rect x="106" y="737" width="457" height="1" fill="url(#r80)"/>
<rect x="106" y="738" width="457" height="1" fill="url(#r81)"/>
<rect x="106" y="739" width="457" height="1" fill="url(#r82)"/>
<rect x="106" y="740" width="457" height="1" fill="url(#r83)"/>
<rect x="106" y="741" width="457" height="1" fill="url(#r84)"/>
<rect x="106" y="742" width="457" height="1" fill="url(#r85)"/>
<rect x="106" y="743" width="457" height="1" fill="url(#r86)"/>
<rect x="106" y="744" width="457" height="1" fill="url(#r87)"/>
<rect x="106" y="745" width="457" height="1" fill="url(#r88)"/>
<rect x="106" y="746" width="457" height="1" fill="url(#r89)"/>
<rect x="106" y="747" width="457" height="1" fill="url(#r90)"/>
<rect x="106" y="748" width="457" height="1" fill="url(#r91)"/>
<rect x="106" y="749" width="457" height="1" fill="url(#r92)"/>
<rect x="106" y="750" width="457" height="1" fill="url(#r93)"/>
<rect x="106" y="751" width="457" height="1" fill="url(#r94)"/>
<rect x="106" y="752" width="457" height="1" fill="url(#r95)"/>
<rect x="106" y="753" width="457" height="1" fill="url(#r96)"/>
<rect x="106" y="754" width="457" height="1" fill="url(#r97)"/>
<rect x="106" y="755" width="457" height="1" fill="url(#r98)"/>
<rect x="106" y="756" width="457" height="1" fill="url(#r99)"/>
<rect x="106" y="757" width="457" height="1" fill="url(#r100)"/>
<rect x="106" y="758" width="457" height="1" fill="url(#r101)"/>
<rect x="106" y="759" width="457" height="1" fill="url(#r102)"/>
<rect x="106" y="760" width="457" height="1" fill="url(#r103)"/>
<rect x="106" y="761" width="457" height="1" fill="url(#r104)"/>
<rect x="106" y="762" width="457" height="1" fill="url(#r105)"/>
<rect x="106" y="763" width="457" height="1" fill="url(#r106)"/>
<rect x="106" y="764" width="457" height="1" fill="url(#r107)"/>
<rect x="106" y="765" width="457" height="1" fill="url(#r108)"/>
<rect x="106" y="766" width="457" height="1" fill="url(#r109)"/>
<rect x="106" y="767" width="457" height="1" fill="url(#r110)"/>
<rect x="106" y="768" width="457" height="1" fill="url(#r111)"/>
<rect x="106" y="769" width="457" height="1" fill="url(#r112)"/>
<rect x="106" y="770" width="457" height="1" fill="url(#r113)"/>
<rect x="106" y="771" width="457" height="1" fill="url(#r114)"/>
<rect x="106" y="772" width="457" height="1" fill="url(#r115)"/>
<rect x="106" y="773" width="457" height="1" fill="url(#r116)"/>
<rect x="106" y="774" width="457" height="1" fill="url(#r117)"/>
<rect x="106" y="775" width="457" height="1" fill="url(#r118)"/>
<rect x="106" y="776" width="457" height="1" fill="url(#r119)"/>
<rect x="106" y="777" width="457" height="1" fill="url(#r120)"/>
<rect x="106" y="778" width="457" height="1" fill="url(#r121)"/>
<rect x="106" y="779" width="457" height="1" fill="url(#r122)"/>
<rect x="106" y="780" width="457" height="1" fill="url(#r123)"/>
<rect x="106" y="781" width="457" height="1" fill="url(#r124)"/>
<rect x="106" y="782" width="457" height="1" fill="url(#r125)"/>
<rect x="106" y="783" width="457" height="1" fill="url(#r126)"/>
<rect x="106" y="784" width="457" height="1" fill="url(#r127)"/>
<rect x="106" y="785" width="457" height="1" fill="url(#r128)"/>
<rect x="106" y="786" width="457" height="1" fill="url(#r129)"/>
<rect x="106" y="787" width="457" height="1" fill="url(#r130)"/>
<rect x="106" y="788" width="457" height="1" fill="url(#r131)"/>
<rect x="106" y="789" width="457" height="1" fill="url(#r132)"/>
<rect x="106" y="790" width="457" height="1" fill="url(#r133)"/>
<rect x="106" y="791" width="457" height="1" fill="url(#r134)"/>
<rect x="106" y="792" width="457" height="1" fill="url(#r135)"/>
<rect x="106" y="793" width="457" height="1" fill="url(#r136)"/>
<rect x="106" y="794" width="457" height="1" fill="url(#r137)"/>
<rect x="106" y="795" width="457" height="1" fill="url(#r138)"/>
<rect x="106" y="796" width="457" height="1" fill="url(#r139)"/>
<rect x="106" y="797" width="457" height="1" fill="url(#r140)"/>
<rect x="106" y="798" width="457" height="1" fill="url(#r141)"/>
<rect x="106" y="799" width="457" height="1" fill="url(#r142)"/>
<rect x="106" y="800" width="457" height="1" fill="url(#r143)"/>
<rect x="106" y="801" width="457" height="1" fill="url(#r144)"/>
<rect x="106" y="802" width="457" height="1" fill="url(#r145)"/>
<rect x="106" y="803" width="457" height="1" fill="url(#r146)"/>
<rect x="106" y="804" width="457" height="1" fill="url(#r147)"/>
<rect x="106" y="805" width="457" height="1" fill="url(#r148)"/>
<rect x="106" y="806" width="457" height="1" fill="url(#r149)"/>
<rect x="106" y="807" width="457" height="1" fill="url(#r150)"/>
<rect x="106" y="808" width="457" height="1" fill="url(#r151)"/>
<rect x="106" y="809" width="457" height="1" fill="url(#r152)"/>
<rect x="106" y="810" width="457" height="1" fill="url(#r153)"/>
<rect x="106" y="811" width="457" height="1" fill="url(#r154)"/>
<rect x="106" y="812" width="457" height="1" fill="url(#r155)"/>
<rect x="106" y="813" width="457" height="1" fill="url(#r156)"/>
<rect x="106" y="814" width="457" height="1" fill="url(#r157)"/>
<rect x="106" y="815" width="457" height="1" fill="url(#r158)"/>
<rect x="106" y="816" width="457" height="1" fill="url(#r159)"/>
<rect x="106" y="817" width="457" height="1" fill="url(#r160)"/>
<rect x="106" y="818" width="457" height="1" fill="url(#r161)"/>
<rect x="106" y="819" width="457" height="1" fill="url(#r162)"/>
<rect x="106" y="820" width="457" height="1" fill="url(#r163)"/>
<rect x="106" y="821" width="457" height="1" fill="url(#r164)"/>
<rect x="106" y="822" width="457" height="1" fill="url(#r165)"/>
<rect x="106" y="823" width="457" height="1" fill="url(#r166)"/>
<rect x="106" y="824" width="457" height="1" fill="url(#r167)"/>
<rect x="106" y="825" width="457" height="1" fill="url(#r168)"/>
<rect x="106" y="826" width="457" height="1" fill="url(#r169)"/>
<rect x="106" y="827" width="457" height="1" fill="url(#r170)"/>
<rect x="106" y="828" width="457" height="1" fill="url(#r171)"/>
<rect x="106" y="829" width="457" height="1" fill="url(#r172)"/>
<rect x="106" y="830" width="457" height="1" fill="url(#r173)"/>
<rect x="106" y="831" width="457" height="1" fill="url(#r174)"/>
<rect x="106" y="832" width="457" height="1" fill="url(#r175)"/>
<rect x="106" y="833" width="457" height="1" fill="url(#r176)"/>
<rect x="106" y="834" width="457" height="1" fill="url(#r177)"/>
<rect x="106" y="835" width="457" height="1" fill="url(#r178)"/>
<rect x="106" y="836" width="457" height="1" fill="url(#r179)"/>
<rect x="106" y="837" width="457" height="1" fill="url(#r180)"/>
<rect x="106" y="838" width="457" height="1" fill="url(#r181)"/>
<rect x="106" y="839" width="457" height="1" fill="url(#r182)"/>
<rect x="106" y="840" width="457" height="1" fill="url(#r183)"/>
<rect x="106" y="841" width="457" height="1" fill="url(#r184)"/>
<rect x="106" y="842" width="457" height="1" fill="url(#r185)"/>
<rect x="106" y="843" width="457" height="1" fill="url(#r186)"/>
<rect x="106" y="844" width="457" height="1" fill="url(#r187)"/>
<rect x="106" y="845" width="457" height="1" fill="url(#r188)"/>
<rect x="106" y="846" width="457" height="1" fill="url(#r189)"/>
<rect x="106" y="847" width="457" height="1" fill="url(#r190)"/>
<rect x="106" y="848" width="457" height="1" fill="url(#r191)"/>
<rect x="106" y="849" width="457" height="1" fill="url(#r192)"/>
<rect x="106" y="850" width="457" height="1" fill="url(#r193)"/>
<rect x="106" y="851" width="457" height="1" fill="url(#r194)"/>
<rect x="106" y="852" width="457" height="1" fill="url(#r195)"/>
<rect x="106" y="853" width="457" height="1" fill="url(#r196)"/>
<rect x="106" y="854" width="457" height="1" fill="url(#r197)"/>
<rect x="106" y="855" width="457" height="1" fill="url(#r198)"/>
<rect x="106" y="856" width="457" height="1" fill="url(#r199)"/>
<rect x="106" y="857" width="457" height="1" fill="url(#r200)"/>
<rect x="106" y="858" width="457" height="1" fill="url(#r201)"/>
<rect x="106" y="859" width="457" height="1" fill="url(#r202)"/>
<rect x="106" y="860" width="457" height="1" fill="url(#r203)"/>
<rect x="106" y="861" width="457" height="1" fill="url(#r204)"/>
<rect x="106" y="862" width="457" height="1" fill="url(#r205)"/>
<rect x="106" y="863" width="457" height="1" fill="url(#r206)"/>
<rect x="106" y="864" width="457" height="1" fill="url(#r207)"/>
<rect x="106" y="865" width="457" height="1" fill="url(#r208)"/>
<rect x="106" y="866" width="457" height="1" fill="url(#r209)"/>
<rect x="106" y="867" width="457" height="1" fill="url(#r210)"/>
<rect x="106" y="868" width="457" height="1" fill="url(#r211)"/>
<rect x="106" y="869" width="457" height="1" fill="url(#r212)"/>
<rect x="106" y="870" width="457" height="1" fill="url(#r213)"/>
<rect x="106" y="871" width="457" height="1" fill="url(#r214)"/>
<rect x="106" y="872" width="457" height="1" fill="url(#r215)"/>
<rect x="106" y="873" width="457" height="1" fill="url(#r216)"/>
<rect x="106" y="874" width="457" height="1" fill="url(#r217)"/>
<rect x="106" y="875" width="457" height="1" fill="url(#r218)"/>
<rect x="106" y="876" width="457" height="1" fill="url(#r219)"/>
<rect x="106" y="877" width="457" height="1" fill="url(#r220)"/>
<rect x="106" y="878" width="457" height="1" fill="url(#r221)"/>
<rect x="106" y="879" width="457" height="1" fill="url(#r222)"/>
<rect x="106" y="880" width="457" height="1" fill="url(#r223)"/>
<rect x="106" y="881" width="457" height="1" fill="url(#r224)"/>
<rect x="106" y="882" width="457" height="1" fill="url(#r225)"/>
<rect x="106" y="883" width="457" height="1" fill="url(#r226)"/>
<rect x="106" y="884" width="457" height="1" fill="url(#r227)"/>
<rect x="106" y="885" width="457" height="1" fill="url(#r228)"/>
<rect x="106" y="886" width="457" height="1" fill="url(#r229)"/>
<rect x="106" y="887" width="457" height="1" fill="url(#r230)"/>
<rect x="106" y="888" width="457" height="1" fill="url(#r231)"/>
<rect x="106" y="889" width="457" height="1" fill="url(#r232)"/>
<rect x="106" y="890" width="457" height="1" fill="url(#r233)"/>
<rect x="106" y="891" width="457" height="1" fill="url(#r234)"/>
<rect x="106" y="892" width="457" height="1" fill="url(#r235)"/>
<rect x="106" y="893" width="457" height="1" fill="url(#r236)"/>
<rect x="106" y="894" width="457" height="1" fill="url(#r237)"/>
<rect x="106" y="895" width="457" height="1" fill="url(#r238)"/>
<rect x="106" y="896" width="457" height="1" fill="url(#r239)"/>
<rect x="106" y="897" width="457" height="1" fill="url(#r240)"/>
<rect x="106" y="898" width="457" height="1" fill="url(#r241)"/>
<rect x="106" y="899" width="457" height="1" fill="url(#r242)"/>
<rect x="106" y="900" width="457" height="1" fill="url(#r243)"/>
<rect x="106" y="901" width="457" height="1" fill="url(#r244)"/>
<rect x="106" y="902" width="457" height="1" fill="url(#r245)"/>
<rect x="106" y="903" width="457" height="1" fill="url(#r246)"/>
<rect x="106" y="904" width="457" height="1" fill="url(#r247)"/>
<rect x="106" y="905" width="457" height="1" fill="url(#r248)"/>
<rect x="106" y="906" width="457" height="1" fill="url(#r249)"/>
<rect x="106" y="907" width="457" height="1" fill="url(#r250)"/>
<rect x="106" y="908" width="457" height="1" fill="url(#r251)"/>
<rect x="106" y="909" width="457" height="1" fill="url(#r252)"/>
<rect x="106" y="910" width="457" height="1" fill="url(#r253)"/>
<rect x="106" y="911" width="457" height="1" fill="url(#r254)"/>
<rect x="106" y="912" width="457" height="1" fill="url(#r255)"/>
<rect x="106" y="913" width="457" height="1" fill="url(#r256)"/>
<rect x="106" y="914" width="457" height="1" fill="url(#r257)"/>
<rect x="106" y="915" width="457" height="1" fill="url(#r258)"/>
<rect x="106" y="916" width="457" height="1" fill="url(#r259)"/>
<rect x="106" y="917" width="457" height="1" fill="url(#r260)"/>
<rect x="106" y="918" width="457" height="1" fill="url(#r261)"/>
<rect x="106" y="919" width="457" height="1" fill="url(#r262)"/>
<rect x="106" y="920" width="457" height="1" fill="url(#r263)"/>
<rect x="106" y="921" width="457" height="1" fill="url(#r264)"/>
<rect x="106" y="922" width="457" height="1" fill="url(#r265)"/>
<rect x="106" y="923" width="457" height="1" fill="url(#r266)"/>
<rect x="106" y="924" width="457" height="1" fill="url(#r267)"/>
<rect x="106" y="925" width="457" height="1" fill="url(#r268)"/>
<rect x="106" y="926" width="457" height="1" fill="url(#r269)"/>
<rect x="106" y="927" width="457" height="1" fill="url(#r270)"/>
<rect x="106" y="928" width="457" height="1" fill="url(#r271)"/>
<rect x="106" y="929" width="457" height="1" fill="url(#r272)"/>
<rect x="106" y="930" width="457" height="1" fill="url(#r273)"/>
<rect x="106" y="931" width="457" height="1" fill="url(#r274)"/>
<rect x="106" y="932" width="457" height="1" fill="url(#r275)"/>
<rect x="106" y="933" width="457" height="1" fill="url(#r276)"/>
<rect x="106" y="934" width="457" height="1" fill="url(#r277)"/>
<rect x="106" y="935" width="457" height="1" fill="url(#r278)"/>
<rect x="106" y="936" width="457" height="1" fill="url(#r279)"/>
<rect x="106" y="937" width="457" height="1" fill="url(#r280)"/>
<rect x="106" y="938" width="457" height="1" fill="url(#r281)"/>
<rect x="106" y="939" width="457" height="1" fill="url(#r282)"/>
<rect x="106" y="940" width="457" height="1" fill="url(#r283)"/>
<rect x="106" y="941" width="457" height="1" fill="url(#r284)"/>
<rect x="106" y="942" width="457" height="1" fill="url(#r285)"/>
<rect x="106" y="943" width="457" height="1" fill="url(#r286)"/>
<rect x="106" y="944" width="457" height="1" fill="url(#r287)"/>
<rect x="106" y="945" width="457" height="1" fill="url(#r288)"/>
<rect x="106" y="946" width="457" height="1" fill="url(#r289)"/>
<rect x="106" y="947" width="457" height="1" fill="url(#r290)"/>
<rect x="106" y="948" width="457" height="1" fill="url(#r291)"/>
<rect x="106" y="949" width="457" height="1" fill="url(#r292)"/>
<rect x="106" y="950" width="457" height="1" fill="url(#r293)"/>
<rect x="106" y="951" width="457" height="1" fill="url(#r294)"/>
<rect x="106" y="952" width="457" height="1" fill="url(#r295)"/>
<rect x="106" y="953" width="457" height="1" fill="url(#r296)"/>
<rect x="106" y="954" width="457" height="1" fill="url(#r297)"/>
<rect x="106" y="955" width="457" height="1" fill="url(#r298)"/>
<rect x="106" y="956" width="457" height="1" fill="url(#r299)"/>
<rect x="106" y="957" width="457" height="1" fill="url(#r300)"/>
<rect x="106" y="958" width="457" height="1" fill="url(#r301)"/>
<rect x="106" y="959" width="457" height="1" fill="url(#r302)"/>
<rect x="106" y="960" width="457" height="1" fill="url(#r303)"/>
<rect x="106" y="961" width="457" height="1" fill="url(#r304)"/>
<rect x="106" y="962" width="457" height="1" fill="url(#r305)"/>
<rect x="106" y="963" width="457" height="1" fill="url(#r306)"/>
<rect x="106" y="964" width="457" height="1" fill="url(#r307)"/>
<rect x="106" y="965" width="457" height="1" fill="url(#r308)"/>
<rect x="106" y="966" width="457" height="1" fill="url(#r309)"/>
<rect x="106" y="967" width="457" height="1" fill="url(#r310)"/>
<rect x="106" y="968" width="457" height="1" fill="url(#r311)"/>
<rect x="106" y="969" width="457" height="1" fill="url(#r312)"/>
<rect x="106" y="970" width="457" height="1" fill="url(#r313)"/>
<rect x="106" y="971" width="457" height="1" fill="url(#r314)"/>
<rect x="106" y="972" width="457" height="1" fill="url(#r315)"/>
<rect x="106" y="973" width="457" height="1" fill="url(#r316)"/>
<rect x="106" y="974" width="457" height="1" fill="url(#r317)"/>
<rect x="106" y="975" width="457" height="1" fill="url(#r318)"/>
<rect x="106" y="976" width="457" height="1" fill="url(#r319)"/>
<rect x="106" y="977" width="457" height="1" fill="url(#r320)"/>
<rect x="106" y="978" width="457" height="1" fill="url(#r321)"/>
<rect x="106" y="979" width="457" height="1" fill="url(#r322)"/>
<rect x="106" y="980" width="457" height="1" fill="url(#r323)"/>
<rect x="106" y="981" width="457" height="1" fill="url(#r324)"/>
<rect x="106" y="982" width="457" height="1" fill="url(#r325)"/>
<rect x="106" y="983" width="457" height="1" fill="url(#r326)"/>
<rect x="106" y="984" width="457" height="1" fill="url(#r327)"/>
<rect x="106" y="985" width="457" height="1" fill="url(#r328)"/>
<rect x="106" y="986" width="457" height="1" fill="url(#r329)"/>
<rect x="106" y="987" width="457" height="1" fill="url(#r330)"/>
<rect x="106" y="988" width="457" height="1" fill="url(#r331)"/>
<rect x="106" y="989" width="457" height="1" fill="url(#r332)"/>
<rect x="106" y="990" width="457" height="1" fill="url(#r333)"/>
<rect x="106" y="991" width="457" height="1" fill="url(#r334)"/>
<rect x="106" y="992" width="457" height="1" fill="url(#r335)"/>
<rect x="106" y="993" width="457" height="1" fill="url(#r336)"/>
<rect x="106" y="994" width="457" height="1" fill="url(#r337)"/>
<rect x="106" y="995" width="457" height="1" fill="url(#r338)"/>
<rect x="106" y="996" width="457" height="1" fill="url(#r339)"/>
<rect x="106" y="997" width="457" height="1" fill="url(#r340)"/>
<rect x="106" y="998" width="457" height="1" fill="url(#r341)"/>
<rect x="106" y="999" width="457" height="1" fill="url(#r342)"/>
<rect x="106" y="1000" width="457" height="1" fill="url(#r343)"/>
<rect x="106" y="1001" width="457" height="1" fill="url(#r344)"/>
<rect x="106" y="1002" width="457" height="1" fill="url(#r345)"/>
<rect x="106" y="1003" width="457" height="1" fill="url(#r346)"/>
<rect x="106" y="1004" width="457" height="1" fill="url(#r347)"/>
<rect x="106" y="1005" width="457" height="1" fill="url(#r348)"/>
<rect x="106" y="1006" width="457" height="1" fill="url(#r349)"/>
<rect x="106" y="1007" width="457" height="1" fill="url(#r350)"/>
<rect x="106" y="1008" width="457" height="1" fill="url(#r351)"/>
<rect x="106" y="1009" width="457" height="1" fill="url(#r352)"/>
<rect x="106" y="1010" width="457" height="1" fill="url(#r353)"/>
<rect x="106" y="1011" width="457" height="1" fill="url(#r354)"/>
<rect x="106" y="1012" width="457" height="1" fill="url(#r355)"/>
<rect x="106" y="1013" width="457" height="1" fill="url(#r356)"/>
<rect x="106" y="1014" width="457" height="1" fill="url(#r357)"/>
<rect x="106" y="1015" width="457" height="1" fill="url(#r358)"/>
<rect x="106" y="1016" width="457" height="1" fill="url(#r359)"/>
<rect x="106" y="1017" width="457" height="1" fill="url(#r360)"/>
<rect x="106" y="1018" width="457" height="1" fill="url(#r361)"/>
<rect x="106" y="1019" width="457" height="1" fill="url(#r362)"/>
<rect x="106" y="1020" width="457" height="1" fill="url(#r363)"/>
<rect x="106" y="1021" width="457" height="1" fill="url(#r364)"/>
<rect x="106" y="1022" width="457" height="1" fill="url(#r365)"/>
<rect x="106" y="1023" width="457" height="1" fill="url(#r366)"/>
<rect x="106" y="1024" width="457" height="1" fill="url(#r367)"/>
<rect x="106" y="1025" width="457" height="1" fill="url(#r368)"/>
<rect x="106" y="1026" width="457" height="1" fill="url(#r369)"/>
<rect x="106" y="1027" width="457" height="1" fill="url(#r370)"/>
<rect x="106" y="1028" width="457" height="1" fill="url(#r371)"/>
<rect x="106" y="1029" width="457" height="1" fill="url(#r372)"/>
<rect x="106" y="1030" width="457" height="1" fill="url(#r373)"/>
<rect x="106" y="1031" width="457" height="1" fill="url(#r374)"/>
<rect x="106" y="1032" width="457" height="1" fill="url(#r375)"/>
<rect x="106" y="1033" width="457" height="1" fill="url(#r376)"/>
<rect x="106" y="1034" width="457" height="1" fill="url(#r377)"/>
<rect x="106" y="1035" width="457" height="1" fill="url(#r378)"/>
<rect x="106" y="1036" width="457" height="1" fill="url(#r379)"/>
<rect x="106" y="1037" width="457" height="1" fill="url(#r380)"/>
<rect x="106" y="1038" width="457" height="1" fill="url(#r381)"/>
<rect x="106" y="1039" width="457" height="1" fill="url(#r382)"/>
<rect x="106" y="1040" width="457" height="1" fill="url(#r383)"/>
<rect x="106" y="1041" width="457" height="1" fill="url(#r384)"/>
<rect x="106" y="1042" width="457" height="1" fill="url(#r385)"/>
<rect x="106" y="1043" width="457" height="1" fill="url(#r386)"/>
<rect x="106" y="1044" width="457" height="1" fill="url(#r387)"/>
<rect x="106" y="1045" width="457" height="1" fill="url(#r388)"/>
<rect x="106" y="1046" width="457" height="1" fill="url(#r389)"/>
<rect x="106" y="1047" width="457" height="1" fill="url(#r390)"/>
<rect x="106" y="1048" width="457" height="1" fill="url(#r391)"/>
<rect x="106" y="1049" width="457" height="1" fill="url(#r392)"/>
<rect x="106" y="1050" width="457" height="1" fill="url(#r393)"/>
<rect x="106" y="1051" width="457" height="1" fill="url(#r394)"/>
<rect x="106" y="1052" width="457" height="1" fill="url(#r395)"/>
<rect x="106" y="1053" width="457" height="1" fill="url(#r396)"/>
<rect x="106" y="1054" width="457" height="1" fill="url(#r397)"/>
<rect x="106" y="1055" width="457" height="1" fill="url(#r398)"/>
<rect x="106" y="1056" width="457" height="1" fill="url(#r399)"/>
<rect x="106" y="1057" width="457" height="1" fill="url(#r400)"/>
<rect x="106" y="1058" width="457" height="1" fill="url(#r401)"/>
<rect x="106" y="1059" width="457" height="1" fill="url(#r402)"/>
<rect x="106" y="1060" width="457" height="1" fill="url(#r403)"/>
<rect x="106" y="1061" width="457" height="1" fill="url(#r404)"/>
<rect x="106" y="1062" width="457" height="1" fill="url(#r405)"/>
<rect x="106" y="1063" width="457" height="1" fill="url(#r406)"/>
<rect x="106" y="1064" width="457" height="1" fill="url(#r407)"/>
<rect x="106" y="1065" width="457" height="1" fill="url(#r408)"/>
<rect x="106" y="1066" width="457" height="1" fill="url(#r409)"/>
<rect x="106" y="1067" width="457" height="1" fill="url(#r410)"/>
<rect x="106" y="1068" width="457" height="1" fill="url(#r411)"/>
<rect x="106" y="1069" width="457" height="1" fill="url(#r412)"/>
<rect x="106" y="1070" width="457" height="1" fill="url(#r413)"/>
<rect x="106" y="1071" width="457" height="1" fill="url(#r414)"/>
<rect x="106" y="1072" width="457" height="1" fill="url(#r415)"/>
<rect x="106" y="1073" width="457" height="1" fill="url(#r416)"/>
<rect x="106" y="1074" width="457" height="1" fill="url(#r417)"/>
<rect x="106" y="1075" width="457" height="1" fill="url(#r418)"/>
<rect x="106" y="1076" width="457" height="1" fill="url(#r419)"/>
<rect x="106" y="1077" width="457" height="1" fill="url(#r420)"/>
<rect x="106" y="1078" width="457" height="1" fill="url(#r421)"/>
<rect x="106" y="1079" width="457" height="1" fill="url(#r422)"/>
<rect x="106" y="1080" width="457" height="1" fill="url(#r423)"/>
<rect x="106" y="1081" width="457" height="1" fill="url(#r424)"/>
<rect x="106" y="1082" width="457" height="1" fill="url(#r425)"/>
<rect x="106" y="1083" width="457" height="1" fill="url(#r426)"/>
<rect x="106" y="1084" width="457" height="1" fill="url(#r427)"/>
<rect x="106" y="1085" width="457" height="1" fill="url(#r428)"/>
<rect x="106" y="1086" width="457" height="1" fill="url(#r429)"/>
<rect x="106" y="1087" width="457" height="1" fill="url(#r430)"/>
<rect x="106" y="1088" width="457" height="1" fill="url(#r431)"/>
<rect x="106" y="1089" width="457" height="1" fill="url(#r432)"/>
<rect x="106" y="1090" width="457" height="1" fill="url(#r433)"/>
<rect x="106" y="1091" width="457" height="1" fill="url(#r434)"/>
<rect x="106" y="1092" width="457" height="1" fill="url(#r435)"/>
<rect x="106" y="1093" width="457" height="1" fill="url(#r436)"/>
<rect x="106" y="1094" width="457" height="1" fill="url(#r437)"/>
<rect x="106" y="1095" width="457" height="1" fill="url(#r438)"/>
<rect x="106" y="1096" width="457" height="1" fill="url(#r439)"/>
<rect x="106" y="1097" width="457" height="1" fill="url(#r440)"/>
<rect x="106" y="1098" width="457" height="1" fill="url(#r441)"/>
<rect x="106" y="1099" width="457" height="1" fill="url(#r442)"/>
<rect x="106" y="1100" width="457" height="1" fill="url(#r443)"/>
<rect x="106" y="1101" width="457" height="1" fill="url(#r444)"/>
<rect x="106" y="1102" width="457" height="1" fill="url(#r445)"/>
<rect x="106" y="1103" width="457" height="1" fill="url(#r446)"/>
<rect x="106" y="1104" width="457" height="1" fill="url(#r447)"/>
<rect x="106" y="1105" width="457" height="1" fill="url(#r448)"/>
<rect x="106" y="1106" width="457" height="1" fill="url(#r449)"/>
<rect x="106" y="1107" width="457" height="1" fill="url(#r450)"/>
<rect x="106" y="1108" width="457" height="1" fill="url(#r451)"/>
<rect x="106" y="1109" width="457" height="1" fill="url(#r452)"/>
<rect x="106" y="1110" width="457" height="1" fill="url(#r453)"/>
<rect x="106" y="1111" width="457" height="1" fill="url(#r454)"/>
<rect x="106" y="1112" width="457" height="1" fill="url(#r455)"/>
<rect x="106" y="1113" width="457" height="1" fill="url(#r456)"/>
</g>
<g stroke="#000" stroke-width="1.5" fill="none" stroke-linejoin="round">
<path d="M157.45 1113.5 157.42 1112.89 157.39 1112.28 157.37 1111.68 157.34 1111.07 157.31 1110.46 157.28 1109.85 157.26 1109.24 157.23 1108.64 157.2 1108.03 157.17 1107.42 157.15 1106.81 157.12 1106.2 157.09 1105.6 157.06 1104.99 157.03 1104.38 157 1103.77 156.97 1103.16 156.95 1102.56 156.92 1101.95 156.89 1101.34 156.86 1100.73 156.83 1100.12 156.8 1099.52 156.77 1098.91 156.74 1098.3 156.71 1097.69 156.68 1097.08 156.65 1096.48 156.62 1095.87 156.59 1095.26 156.56 1094.65 156.52 1094.04 156.49 1093.44 156.46 1092.83 156.43 1092.22 156.4 1091.61 156.37 1091 156.33 1090.4 156.3 1089.79 156.27 1089.18 156.24 1088.57 156.21 1087.96 156.17 1087.36 156.14 1086.75 156.11 1086.14 156.07 1085.53 156.04 1084.92 156.01 1084.32 155.97 1083.71 155.94 1083.1 155.9 1082.49 155.87 1081.88 155.83 1081.28 155.8 1080.67 155.76 1080.06 155.73 1079.45 155.69 1078.84 155.66 1078.24 155.62 1077.63 155.59 1077.02 155.55 1076.41 155.51 1075.8 155.48 1075.2 155.44 1074.59 155.4 1073.98 155.37 1073.37 155.33 1072.76 155.29 1072.16 155.25 1071.55 155.22 1070.94 155.18 1070.33 155.14 1069.72 155.1 1069.12 155.06 1068.51 155.02 1067.9 154.98 1067.29 154.94 1066.68 154.9 1066.08 154.86 1065.47 154.82 1064.86 154.78 1064.25 154.74 1063.64 154.7 1063.04 154.66 1062.43 154.62 1061.82 154.58 1061.21 154.54 1060.6 154.49 1060 154.45 1059.39 154.41 1058.78 154.37 1058.17 154.32 1057.56 154.28 1056.96 154.24 1056.35 154.19 1055.74 154.15 1055.13 154.1 1054.52 154.06 1053.92 154.01 1053.31 153.97 1052.7 153.92 1052.09 153.88 1051.48 153.83 1050.9 153.78 1050.27 153.74 1049.66 153.69 1049.05 153.64 1048.44 153.6 1047.84 153.55 1047.23 153.5 1046.62 153.45 1046.01 153.4 1045.4 153.35 1044.8 153.3 1044.19 153.26 1043.58 153.21 1042.97 153.16 1042.36 153.1 1041.76 153.05 1041.15 153 1040.54 152.95 1039.93 152.9 1039.32 152.85 1038.72 152.79 1038.11 152.74 1037.5 152.69 1036.89 152.63 1036.28 152.58 1035.68 152.53 1035.07 152.47 1034.46 152.42 1033.85 152.36 1033.24 152.3 1032.64 152.25 1032.03 152.19 1031.42 152.13 1030.81 152.08 1030.2 152.02 1029.6 151.96 1028.99 151.9 1028.38 151.84 1027.77 151.78 1027.16 151.72 1026.56 151.66 1025.95 151.6 1025.34 151.54 1024.73 151.48 1024.12 151.42 1023.52 151.35 1022.91 151.29 1022.3 151.23 1021.69 151.16 1021.08 151.1 1020.48 151.04 1019.87 150.97 1019.26 150.9 1018.65 150.84 1018.04 150.77 1017.44 150.7 1016.83 150.64 1016.22 150.57 1015.61 150.5 1015 150.43 1014.4 150.36 1013.79 150.29 1013.18 150.22 1012.57 150.15 1011.96 150.08 1011.36 150 1010.75 149.93 1010.14 149.86 1009.53 149.78 1008.92 149.71 1008.32 149.63 1007.71 149.56 1007.1 149.48 1006.49 149.4 1005.88 149.34 1005.35 149.27 1004.82 149.2 1004.29 149.13 1003.76 149.06 1003.22 148.99 1002.69 148.92 1002.16 148.85 1001.63 148.77 1001.1 148.7 1000.56 148.63 1000.03 148.55 999.5 148.48 998.97 148.41 998.44 148.33 997.9 148.26 997.37 148.18 996.84 148.1 996.31 148.02 995.78 147.95 995.24 147.87 994.71 147.79 994.18 147.71 993.65 147.63 993.12 147.55 992.58 147.47 992.05 147.38 991.52 147.3 990.99 147.22 990.46 147.13 989.92 147.05 989.39 146.96 988.86 146.88 988.33 146.79 987.8 146.7 987.26 146.61 986.73 146.53 986.2 146.44 985.67 146.35 985.14 146.25 984.6 146.16 984.07 146.07 983.54 145.98 983.01 145.88 982.48 145.79 981.94 145.69 981.41 145.6 980.88 145.5 980.35 145.4 979.82 145.3 979.29 145.2 978.75 145.1 978.22 145 977.69 144.9 977.16 144.79 976.62 144.69 976.11 144.58 975.56 144.48 975.03 144.37 974.5 144.26 973.96 144.15 973.43 144.04 972.9 143.93 972.37 143.82 971.84 143.71 971.3 143.6 970.77 143.48 970.24 143.37 969.71 143.25 969.18 143.13 968.64 143.02 968.14 142.89 967.58 142.77 967.05M134.22 938.93 134.03 938.47 133.85 938.02 133.66 937.56 133.47 937.1 133.27 936.65 133.08 936.19 132.88 935.74 132.68 935.28 132.48 934.82 132.27 934.37 132.07 933.91 131.86 933.46 131.65 933 131.44 932.56 131.22 932.09 131 931.63 130.78 931.18 130.55 930.72 130.33 930.26 130.1 929.81 129.87 929.35 129.63 928.9 129.39 928.44 129.15 927.99 128.91 927.53 128.7 927.14 128.45 926.69 128.24 926.3 127.99 925.86 127.73 925.4 127.48 924.96 127.25 924.56 127.03 924.18 126.8 923.8 126.58 923.42 126.35 923.04 126.11 922.66 125.88 922.28 125.64 921.9 125.4 921.52 125.16 921.14 124.91 920.76 124.66 920.38 124.41 920 124.16 919.62 123.9 919.24 123.64 918.86 123.38 918.48 123.11 918.1 122.84 917.72 122.57 917.34 122.3 916.97 122.02 916.58 121.74 916.2 121.45 915.82 121.16 915.44 120.87 915.06 120.57 914.68 120.27 914.3 119.97 913.92 119.66 913.54 119.35 913.16 119.03 912.78 118.71 912.4 118.39 912.02 118.06 911.64 117.73 911.26 117.42 910.92 117.12 910.58 116.82 910.24 116.51 909.91 116.22 909.59 115.9 909.26 115.6 908.94 115.29 908.62 114.99 908.3 114.69 908 114.38 907.69 114.08 907.39 113.77 907.08 113.46 906.79 113.14 906.48 112.82 906.17 112.5 905.87 112.17 905.56 111.84 905.26 111.51 904.96 111.18 904.66 110.83 904.35 110.48 904.04 110.13 903.74 109.77 903.44 109.41 903.13 109.05 902.83 108.68 902.52 108.31 902.22 107.93 901.92 107.55 901.61 107.16 901.31 106.77 901 106.38 900.7 106 900.42"/>
<path d="M208.89 1113.5 208.98 1112.97 209.06 1112.44 209.14 1111.9 209.22 1111.37 209.31 1110.84 209.39 1110.31 209.47 1109.78 209.56 1109.24 209.64 1108.71 209.73 1108.18 209.81 1107.65 209.9 1107.12 209.99 1106.58 210.07 1106.05 210.16 1105.52 210.25 1104.99 210.33 1104.46 210.42 1103.92 210.51 1103.39 210.6 1102.86 210.69 1102.33 210.78 1101.8 210.87 1101.26 210.96 1100.73 211.05 1100.2 211.14 1099.67 211.23 1099.14 211.32 1098.6 211.41 1098.07 211.51 1097.54 211.6 1097.01 211.69 1096.48 211.79 1095.94 211.88 1095.41 211.98 1094.88 212.07 1094.35 212.17 1093.82 212.26 1093.28 212.36 1092.75 212.46 1092.22 212.55 1091.69 212.65 1091.16 212.75 1090.62 212.85 1090.09 212.95 1089.56 213.05 1089.03 213.15 1088.5 213.24 1087.98 213.35 1087.43 213.45 1086.9 213.55 1086.38 213.65 1085.84 213.75 1085.3 213.86 1084.77 213.96 1084.24 214.07 1083.71 214.17 1083.18 214.27 1082.64 214.38 1082.11 214.49 1081.58 214.59 1081.05 214.7 1080.52 214.81 1079.98 214.92 1079.45 215.02 1078.92 215.13 1078.39 215.24 1077.86 215.35 1077.32 215.46 1076.79 215.57 1076.26 215.68 1075.76 215.8 1075.2 215.91 1074.66 216.02 1074.13 216.14 1073.6 216.25 1073.07 216.37 1072.54 216.48 1072 216.59 1071.49 216.72 1070.94 216.83 1070.41 216.95 1069.88 217.07 1069.34 217.19 1068.81 217.31 1068.28 217.43 1067.75 217.55 1067.22 217.66 1066.72 217.77 1066.23 217.9 1065.7 218.02 1065.16 218.14 1064.63 218.27 1064.1 218.39 1063.57 218.52 1063.04 218.64 1062.5 218.77 1061.97 218.9 1061.44 219.03 1060.91 219.15 1060.38 219.28 1059.84 219.41 1059.31 219.54 1058.78 219.68 1058.25 219.81 1057.72 219.94 1057.18 220.07 1056.65 220.21 1056.12 220.34 1055.59 220.48 1055.06 220.62 1054.52 220.75 1053.99 220.89 1053.46 221.03 1052.93 221.16 1052.41 221.31 1051.86 221.45 1051.33 221.59 1050.8 221.73 1050.27 221.88 1049.74 222.02 1049.2 222.16 1048.67 222.31 1048.14 222.46 1047.61 222.6 1047.08 222.75 1046.54 222.9 1046.01 223.05 1045.48 223.2 1044.95 223.35 1044.42 223.5 1043.88 223.66 1043.35 223.81 1042.82 223.96 1042.29 224.12 1041.76 224.28 1041.22 224.43 1040.69 224.59 1040.16 224.75 1039.63 224.91 1039.1 225.07 1038.56 225.23 1038.03 225.39 1037.5 225.56 1036.97 225.72 1036.44 225.89 1035.91 226.03 1035.45 226.19 1034.94 226.34 1034.46 226.49 1034 226.63 1033.55 226.78 1033.09 226.93 1032.64 227.07 1032.18 227.22 1031.72 227.37 1031.27 227.52 1030.81 227.67 1030.36 227.82 1029.9 227.98 1029.44 228.13 1028.99 228.28 1028.53 228.44 1028.08 228.6 1027.62 228.75 1027.16 228.91 1026.71 229.07 1026.25 229.23 1025.8 229.39 1025.34 229.55 1024.88 229.71 1024.43 229.87 1023.97 230.03 1023.52 230.2 1023.06 230.36 1022.6 230.53 1022.15 230.7 1021.69 230.86 1021.24 231.03 1020.78 231.2 1020.32 231.37 1019.87 231.54 1019.41 231.72 1018.96 231.89 1018.5 232.06 1018.04 232.24 1017.59 232.42 1017.13 232.59 1016.69 232.77 1016.22 232.95 1015.76 233.13 1015.31 233.31 1014.85 233.49 1014.4 233.68 1013.94 233.86 1013.48 234.05 1013.03 234.23 1012.57 234.42 1012.12 234.61 1011.66 234.8 1011.2 234.99 1010.75 235.18 1010.3 235.37 1009.84 235.57 1009.38 235.76 1008.92 235.96 1008.47 236.16 1008.01 236.36 1007.56 236.55 1007.11 236.76 1006.64 236.96 1006.19 237.16 1005.74 237.37 1005.28 237.57 1004.82 237.77 1004.39 237.99 1003.91 238.2 1003.45 238.41 1003 238.62 1002.54 238.83 1002.09 239.05 1001.63 239.27 1001.17 239.48 1000.72 239.7 1000.26 239.9 999.85 240.11 999.42 240.33 998.97 240.56 998.51 240.78 998.06 241.01 997.6 241.24 997.14 241.47 996.69 241.7 996.23 241.93 995.78 242.16 995.32 242.4 994.86 242.64 994.41 242.88 993.95 243.1 993.53 243.32 993.12 243.56 992.67 243.81 992.2 244.05 991.75 244.3 991.29 244.55 990.84 244.78 990.43 245.01 990 245.23 989.61 245.48 989.16 245.74 988.71 245.99 988.26 246.22 987.87 246.45 987.46 246.7 987.04 246.92 986.66 247.14 986.28 247.37 985.9 247.59 985.52 247.82 985.14 248.05 984.76 248.28 984.38 248.51 984 248.74 983.62 248.97 983.24 249.21 982.86 249.44 982.48 249.68 982.1 249.92 981.72 250.16 981.34 250.4 980.96 250.64 980.58 250.89 980.2 251.14 979.82 251.38 979.44 251.63 979.06 251.88 978.68 252.13 978.3 252.39 977.92 252.64 977.54 252.9 977.16 253.15 976.78 253.42 976.4 253.68 976.02 253.94 975.64 254.21 975.26 254.47 974.88 254.74 974.5 255.01 974.12 255.28 973.74 255.56 973.36 255.83 972.98 256.11 972.6 256.39 972.22 256.66 971.85 256.95 971.46 257.23 971.08 257.52 970.7 257.81 970.32 258.09 969.94 258.39 969.56 258.68 969.18 258.94 968.84 259.21 968.49 259.51 968.11 259.81 967.73 260.11 967.35 260.42 966.97 260.72 966.59 261.03 966.21 261.34 965.83 261.66 965.45 261.97 965.07 262.29 964.69 262.6 964.32 262.9 963.96 263.19 963.63 263.51 963.25 263.82 962.9 264.11 962.56 264.43 962.2 264.73 961.85 265.04 961.51 265.34 961.16 265.65 960.82 265.95 960.49 266.25 960.15 266.55 959.83 266.86 959.48 267.17 959.15 267.46 958.84 267.78 958.5 268.08 958.18 268.39 957.86 268.68 957.55 269 957.22 269.3 956.9 269.61 956.59 269.91 956.28 270.22 955.97 270.52 955.66 270.82 955.35 271.13 955.05 271.43 954.75 271.74 954.44 272.04 954.15 272.35 953.85 272.65 953.55 273 953.22 273.32 952.91 273.64 952.61 273.96 952.3 274.28 952 274.61 951.7 274.93 951.39 275.26 951.09 275.59 950.78 275.93 950.48 276.26 950.18 276.6 949.87 276.92 949.59 277.28 949.26 277.63 948.96 277.97 948.66 278.32 948.35 278.67 948.05 279.02 947.74 279.36 947.46 279.74 947.14 280.1 946.83 280.46 946.53 280.82 946.22 281.18 945.93 281.56 945.62 281.93 945.31 282.3 945.01 282.68 944.7 283.06 944.4 283.44 944.1 283.83 943.79 284.21 943.49 284.6 943.18 284.99 942.88 285.39 942.58 285.75 942.3 286.19 941.97 286.59 941.66 286.97 941.38 287.4 941.06 287.82 940.75 288.19 940.48 288.54 940.22 288.95 939.92 289.38 939.61 289.81 939.31 290.17 939.05 290.56 938.78 290.93 938.51 291.32 938.24 291.69 937.98 292.09 937.71 292.46 937.46 292.87 937.18 293.32 936.88 293.77 936.57 294.23 936.27 294.69 935.96 295.15 935.66 295.62 935.36 296.09 935.05 296.57 934.75 297.03 934.45 297.4 934.22 297.79 933.97 298.24 933.69 298.62 933.46 299.01 933.22 299.46 932.94 299.86 932.7 300.24 932.47 300.61 932.24 301 932.01 301.38 931.78 301.76 931.56 302.15 931.33 302.54 931.1 302.93 930.87 303.33 930.64 303.72 930.42 304.12 930.19 304.52 929.96 304.93 929.73 305.33 929.5 305.74 929.28 306.15 929.05 306.57 928.82 306.98 928.59 307.38 928.37 307.82 928.14 308.25 927.91 308.67 927.68 309.1 927.45 309.52 927.23 309.97 927 310.4 926.77 310.84 926.54 311.29 926.31 311.73 926.08 312.18 925.86 312.63 925.63 313.08 925.4 313.54 925.17 314 924.94 314.46 924.72 314.93 924.49 315.4 924.26 315.87 924.03 316.34 923.8 316.82 923.58 317.29 923.35 317.74 923.14 318.2 922.92 318.66 922.71 319.09 922.51 319.57 922.29 320.03 922.08 320.49 921.87 320.92 921.68 321.4 921.46 321.86 921.26 322.28 921.07 322.77 920.85 323.23 920.65 323.67 920.46 324.14 920.25 324.6 920.06 325.06 919.86 325.51 919.67 325.97 919.47 326.43 919.28 326.88 919.09 327.34 918.9 327.79 918.71 328.25 918.52 328.71 918.33 329.17 918.15 329.63 917.96 330.08 917.78 330.54 917.6 330.99 917.42 331.45 917.24 331.91 917.06 332.37 916.88 332.82 916.7 333.28 916.52 333.74 916.35 334.2 916.17 334.65 916 335.11 915.83 335.57 915.65 336.02 915.48 336.48 915.31 336.94 915.14 337.39 914.98 337.85 914.81 338.31 914.64 338.77 914.48 339.22 914.31 339.67 914.15 340.14 913.99 340.59 913.82 341.05 913.66 341.51 913.5 341.96 913.34 342.42 913.18 342.88 913.03 343.34 912.87 343.79 912.71 344.25 912.56 344.71 912.4 345.16 912.25 345.61 912.1 346.07 911.95 346.53 911.8 346.99 911.64 347.45 911.49 347.91 911.34 348.36 911.2 348.82 911.05 349.28 910.9 349.73 910.76 350.19 910.61 350.65 910.47 351.1 910.32 351.56 910.18 352.17 909.99 352.72 909.82 353.22 909.67 353.69 909.52 354.21 909.36 354.71 909.21 355.22 909.06 355.73 908.91 356.24 908.76 356.74 908.61 357.27 908.45 357.79 908.3 358.26 908.16 358.83 908 359.33 907.85M410.67 896.24 411.2 896.14 411.73 896.05 412.34 895.94 412.93 895.84 413.56 895.73 414.17 895.62 414.78 895.51 415.39 895.41 416 895.31 416.61 895.2 417.22 895.1 417.8 895 418.44 894.89 419.04 894.79 419.62 894.7 420.26 894.59 420.87 894.49 421.47 894.39 422.09 894.29 422.7 894.19 423.31 894.09 423.92 894 424.53 893.9 425.14 893.8 425.73 893.71 426.36 893.61 426.97 893.51 427.58 893.42 428.16 893.33 428.79 893.23 429.4 893.14 430.01 893.04 430.62 892.95 431.23 892.86 431.84 892.76 432.45 892.67 433.06 892.58 433.66 892.49 434.28 892.4 434.89 892.31 435.5 892.22 436.11 892.13 436.72 892.04 437.29 891.96 437.82 891.88 438.35 891.81 438.88 891.73 439.41 891.66 439.94 891.58 440.48 891.5 441.02 891.43 441.56 891.35 442.11 891.28 442.65 891.2 443.2 891.12 443.75 891.05 444.3 890.97 444.85 890.9 445.4 890.82 445.97 890.74 446.53 890.67 447.07 890.59 447.66 890.52 448.23 890.44 448.8 890.36 449.36 890.29 449.95 890.21 450.52 890.14 451.1 890.06 451.64 889.99 452.25 889.91 452.86 889.83 453.45 889.76 454.04 889.68 454.63 889.6 455.23 889.53 455.83 889.45 456.37 889.38 456.98 889.31 457.59 889.23 458.19 889.15 458.8 889.08 459.41 889 460.02 888.93 460.63 888.85 461.24 888.78 461.85 888.71 462.46 888.63 463.07 888.56 463.68 888.48 464.29 888.41 464.9 888.34 465.51 888.27 466.12 888.19 466.73 888.12 467.33 888.05 467.94 887.98 468.55 887.91 469.16 887.84 469.77 887.77 470.34 887.7 470.99 887.63 471.6 887.56 472.21 887.49 472.82 887.42 473.43 887.35 474.04 887.28 474.65 887.22 475.26 887.15 475.87 887.08 476.42 887.02 477.08 886.95 477.69 886.88 478.3 886.81 478.91 886.75 479.52 886.68 480.13 886.62 480.74 886.55 481.33 886.49 481.96 886.42 482.57 886.36 483.18 886.29 483.79 886.23 484.4 886.16 485.01 886.1 485.61 886.04 486.22 885.97 486.83 885.91 487.44 885.85 488.05 885.79 488.61 885.73 489.27 885.66 489.88 885.6 490.49 885.54 490.86 885.5"/>
<path d="M106 708.98 112.41 711.92 118.83 714.86 125.24 717.8 131.66 720.74 138.07 723.69 144.49 726.63 150.9 729.57 157.32 732.51 163.73 735.46 170.14 738.4 176.56 741.34 182.97 744.28 189.39 747.22 195.8 750.17 202.22 753.11 208.63 756.05 215.04 758.99 221.46 761.93 227.87 764.88 234.29 767.82 240.7 770.76 247.12 773.7 253.53 776.64 259.95 779.59 266.36 782.53 272.77 785.47 279.19 788.41 285.6 791.35 292.02 794.3 298.43 797.24 304.85 800.18 311.26 803.12 317.68 806.06 324.09 809.01 330.5 811.95 336.92 814.89 343.33 817.83 349.75 820.77 356.16 823.72 362.58 826.66 368.99 829.6 375.4 832.54 381.82 835.49 388.23 838.43 394.65 841.37 401.06 844.31 407.48 847.25 413.89 850.2 420.31 853.14 426.72 856.08 433.13 859.02 439.55 861.96 445.96 864.91 452.38 867.85 458.79 870.79 465.21 873.73 471.62 876.67 478.04 879.62 484.45 882.56 490.86 885.5"/>
<path d="M260.34 1113.5 260.5 1113.04 260.66 1112.59 260.82 1112.13 260.99 1111.68 261.15 1111.22 261.31 1110.76 261.48 1110.31 261.64 1109.85 261.8 1109.4 261.97 1108.94 262.14 1108.48 262.3 1108.03 262.47 1107.57 262.64 1107.12 262.81 1106.66 262.98 1106.2 263.15 1105.75 263.32 1105.29 263.49 1104.84 263.66 1104.38 263.83 1103.92 264.01 1103.47 264.18 1103.01 264.35 1102.56 264.53 1102.1 264.7 1101.64 264.88 1101.19 265.06 1100.73 265.23 1100.28 265.41 1099.82 265.59 1099.36 265.77 1098.91 265.95 1098.45 266.13 1098 266.31 1097.54 266.5 1097.08 266.68 1096.63 266.86 1096.17 267.05 1095.72 267.23 1095.26 267.42 1094.8 267.6 1094.35 267.78 1093.92 267.98 1093.44 268.17 1092.98 268.36 1092.52 268.54 1092.08 268.74 1091.61 268.93 1091.16 269.12 1090.7 269.3 1090.27 269.51 1089.79 269.7 1089.33 269.89 1088.88 270.09 1088.42 270.29 1087.96 270.48 1087.51 270.67 1087.08 270.88 1086.6 271.08 1086.14 271.28 1085.68 271.48 1085.23 271.68 1084.77 271.89 1084.32 272.09 1083.86 272.3 1083.4 272.5 1082.95 272.71 1082.49 272.91 1082.04 273.11 1081.61 273.33 1081.12 273.54 1080.67 273.75 1080.21 273.96 1079.76 274.17 1079.3 274.39 1078.84 274.6 1078.39 274.81 1077.93 275.03 1077.48 275.24 1077.03 275.46 1076.56 275.68 1076.11 275.9 1075.65 276.12 1075.2 276.34 1074.74 276.56 1074.28 276.77 1073.86 276.97 1073.45 277.19 1072.99 277.42 1072.54 277.65 1072.08 277.87 1071.62 278.1 1071.17 278.33 1070.71 278.56 1070.26 278.79 1069.8 279.02 1069.34 279.25 1068.89 279.49 1068.43 279.72 1067.98 279.96 1067.52 280.2 1067.06 280.42 1066.63 280.63 1066.23 280.87 1065.77 281.11 1065.32 281.34 1064.9 281.56 1064.48 281.79 1064.04 282 1063.64 282.25 1063.19 282.5 1062.73 282.74 1062.28 282.99 1061.82 283.24 1061.36 283.47 1060.95 283.7 1060.53 283.93 1060.13 284.17 1059.69 284.42 1059.24 284.68 1058.78 284.94 1058.32 285.2 1057.87 285.45 1057.42 285.67 1057.03 285.91 1056.63 286.15 1056.2 286.42 1055.74 286.64 1055.36 286.86 1054.98 287.08 1054.6 287.31 1054.22 287.53 1053.84 287.76 1053.46 287.98 1053.08 288.21 1052.7 288.44 1052.32 288.67 1051.94 288.89 1051.56 289.12 1051.18 289.36 1050.8 289.59 1050.42 289.82 1050.04 290.06 1049.66 290.29 1049.28 290.53 1048.9 290.76 1048.52 291 1048.14 291.24 1047.76 291.48 1047.38 291.72 1047 291.96 1046.62 292.2 1046.24 292.44 1045.86 292.69 1045.48 292.93 1045.1 293.18 1044.72 293.43 1044.34 293.67 1043.96 293.92 1043.58 294.17 1043.2 294.43 1042.82 294.68 1042.44 294.93 1042.06 295.18 1041.68 295.44 1041.3 295.7 1040.92 295.95 1040.54 296.21 1040.16 296.47 1039.78 296.72 1039.41 296.99 1039.02 297.25 1038.64 297.52 1038.26 297.78 1037.88 298.05 1037.5 298.32 1037.12 298.58 1036.74 298.85 1036.36 299.12 1035.98 299.39 1035.6 299.67 1035.22 299.92 1034.87 300.21 1034.46 300.49 1034.08 300.77 1033.7 301.05 1033.32 301.32 1032.94 301.6 1032.57 301.89 1032.18 302.17 1031.8 302.45 1031.42 302.74 1031.04 303.03 1030.66 303.31 1030.28 303.58 1029.93 303.88 1029.54 304.18 1029.14 304.48 1028.76 304.77 1028.38 305.07 1028 305.36 1027.62 305.66 1027.24 305.96 1026.86 306.26 1026.48 306.56 1026.1 306.87 1025.72 307.17 1025.34 307.48 1024.96 307.78 1024.58 308.09 1024.2 308.4 1023.82 308.71 1023.44 309.03 1023.06 309.34 1022.68 309.66 1022.3 309.97 1021.92 310.28 1021.55 310.58 1021.19 310.87 1020.86 311.19 1020.48 311.5 1020.12 311.77 1019.79 312.1 1019.41 312.41 1019.05 312.69 1018.73 313.02 1018.35 313.33 1018 313.62 1017.66 313.94 1017.31 314.23 1016.98 314.54 1016.62 314.84 1016.3 315.15 1015.94 315.45 1015.61 315.76 1015.27 316.07 1014.93 316.37 1014.6 316.68 1014.26 316.98 1013.94 317.29 1013.6 317.59 1013.27 317.89 1012.95 318.2 1012.62 318.5 1012.3 318.81 1011.97 319.11 1011.66 319.42 1011.33 319.72 1011.01 320.03 1010.69 320.33 1010.38 320.63 1010.06 320.94 1009.75 321.25 1009.43 321.55 1009.12 321.86 1008.81 322.16 1008.5 322.47 1008.19 322.77 1007.88 323.07 1007.58 323.38 1007.27 323.68 1006.97 323.99 1006.67 324.29 1006.37 324.6 1006.07 324.9 1005.77 325.21 1005.47 325.51 1005.18 325.88 1004.82 326.2 1004.52 326.51 1004.21 326.83 1003.91 327.15 1003.6 327.47 1003.3 327.79 1003 328.1 1002.7 328.44 1002.39 328.76 1002.08 329.09 1001.78 329.42 1001.48 329.75 1001.17 330.08 1000.87 330.41 1000.56 330.75 1000.26 331.08 999.96 331.42 999.65 331.76 999.35 332.1 999.04 332.44 998.74 332.78 998.44 333.12 998.13 333.47 997.83 333.81 997.52 334.16 997.22 334.5 996.93 334.86 996.61 335.22 996.31 335.57 996.01 335.92 995.7 336.28 995.4 336.63 995.1 337 994.79 337.36 994.48 337.7 994.2 338.09 993.88 338.46 993.57 338.82 993.27 339.19 992.96 339.53 992.69 339.94 992.36 340.29 992.07 340.69 991.75 341.05 991.46 341.44 991.14 341.81 990.85 342.21 990.53 342.57 990.24 342.98 989.92 343.34 989.64 343.76 989.32 344.1 989.05 344.44 988.78 344.84 988.48 345.23 988.18 345.62 987.88 346.03 987.57 346.38 987.3 346.73 987.04 347.14 986.73 347.55 986.43 347.91 986.16 348.26 985.9 348.67 985.6 349.09 985.29 349.5 984.98 349.89 984.7 350.23 984.45 350.65 984.15 351.08 983.84 351.5 983.54 351.87 983.28 352.25 983.01 352.63 982.74 353 982.48 353.39 982.21 353.77 981.94 354.15 981.68 354.53 981.41 354.91 981.15 355.31 980.88 355.67 980.63 356.08 980.35 356.53 980.04 356.89 979.8 357.32 979.51 357.78 979.21 358.23 978.9 358.69 978.6 359.15 978.3 359.62 977.99 360.08 977.69 360.55 977.39 361.01 977.09 361.38 976.85 361.77 976.6 362.21 976.32 362.68 976.02 363.14 975.73 363.53 975.48 363.9 975.25 364.36 974.96 364.74 974.72 365.12 974.49 365.58 974.21 365.98 973.96 366.35 973.74 366.72 973.51 367.1 973.28 367.48 973.05 367.85 972.82 368.23 972.6 368.61 972.37 369 972.14 369.38 971.91 369.77 971.68 370.15 971.46 370.54 971.23 370.93 971 371.32 970.77 371.72 970.54 372.11 970.32 372.51 970.09 372.91 969.86 373.31 969.63 373.71 969.4 374.11 969.18 374.51 968.95 374.92 968.72 375.33 968.49 375.74 968.26 376.15 968.04 376.54 967.82 376.97 967.58 377.39 967.35 377.8 967.12 378.22 966.9 378.64 966.67 379.07 966.44 379.49 966.21 379.9 965.99 380.34 965.76 380.77 965.53 381.2 965.3 381.63 965.07 382.03 964.87 382.49 964.63 382.94 964.39 383.38 964.16 383.82 963.93 384.27 963.7 384.71 963.48 385.16 963.25 385.61 963.02 386.06 962.79 386.51 962.56 386.96 962.34 387.42 962.11 387.88 961.88 388.34 961.65 388.8 961.42 389.27 961.2 389.73 960.97 390.2 960.74 390.67 960.51 391.14 960.28 391.62 960.06 392.08 959.83 392.54 959.61 393 959.4 393.45 959.18 393.91 958.97 394.34 958.76 394.82 958.54 395.28 958.33 395.74 958.11 396.19 957.9 396.63 957.7 397.11 957.48 397.57 957.27 398.02 957.07 398.47 956.86 398.94 956.65 399.39 956.45 399.82 956.26 400.31 956.04 400.76 955.84 401.19 955.65 401.68 955.43 402.14 955.23 402.58 955.04 403.05 954.84 403.51 954.64 403.96 954.44 404.42 954.24 404.87 954.05 405.33 953.85 405.76 953.67 406.25 953.46 406.71 953.27 407.16 953.08 407.62 952.89 408.08 952.7 408.53 952.51 408.99 952.32 409.45 952.13 409.9 951.94 410.36 951.76 410.82 951.57 411.26 951.39 411.73 951.2 412.19 951.02 412.65 950.83 413.1 950.65 413.56 950.47 414.02 950.29 414.47 950.1 414.93 949.92 415.39 949.74 415.84 949.57 416.3 949.39 416.76 949.21 417.21 949.04 417.67 948.86 418.13 948.68 418.59 948.51 419.04 948.33 419.5 948.16 419.96 947.99 420.4 947.82 420.87 947.64 421.33 947.47 421.79 947.3 422.23 947.14 422.7 946.96 423.16 946.79 423.62 946.63 424.07 946.46 424.53 946.29 424.99 946.12 425.44 945.96 425.9 945.79 426.36 945.63 426.81 945.47 427.27 945.3 427.73 945.14 428.19 944.98 428.64 944.82 429.1 944.66 429.56 944.49 430.01 944.33 430.47 944.18 430.92 944.02 431.38 943.86 431.84 943.7 432.3 943.54 432.75 943.39 433.21 943.23 433.67 943.08 434.13 942.92 434.58 942.77 435.04 942.61 435.5 942.46 435.95 942.31 436.41 942.15 436.87 942 437.32 941.85 437.78 941.7 438.24 941.55 438.7 941.4 439.15 941.25 439.61 941.1 440.07 940.95 440.52 940.81 440.98 940.66 441.44 940.51 441.9 940.37 442.35 940.22 442.81 940.07 443.27 939.93 443.72 939.79 444.18 939.64 444.64 939.5 445.25 939.31 445.73 939.16 446.22 939 446.72 938.85 447.21 938.7 447.68 938.55 448.2 938.4 448.7 938.24 449.2 938.09 449.66 937.95 450.21 937.79 450.71 937.64 451.19 937.49 451.73 937.33 452.24 937.18 452.71 937.04 453.27 936.88 453.78 936.73 454.31 936.57 454.83 936.42 455.3 936.28 455.88 936.12 456.37 935.97 456.93 935.81 457.43 935.67 458 935.51 458.5 935.36 459.07 935.2 459.57 935.06 460.15 934.9 460.63 934.76 461.23 934.6 461.78 934.44 462.31 934.3 462.88 934.14 463.37 934 463.98 933.84 464.54 933.68 465.05 933.55 465.66 933.38 466.23 933.23 466.73 933.09 467.33 932.93 467.93 932.77 468.5 932.62 469.01 932.48 469.62 932.32 470.23 932.16 470.81 932.01 471.3 931.89 471.9 931.73 472.51 931.57 473.12 931.41 473.73 931.26 474.34 931.1 474.94 930.95 475.54 930.8 476.02 930.67 476.63 930.52 477.24 930.37 477.85 930.22 478.45 930.06 479.06 929.91 479.67 929.76 480.28 929.61 480.89 929.46 481.5 929.31 482.11 929.17 482.6 929.05 483.18 928.91 483.79 928.76 484.4 928.62 485.01 928.47 485.61 928.33 486.22 928.18 486.74 928.06 487.29 927.93 487.9 927.79 488.51 927.64 489.01 927.53 489.58 927.4 490.18 927.26 490.79 927.12 491.31 927 491.86 926.87 492.47 926.73 492.98 926.62 493.54 926.49 494.15 926.35 494.67 926.24 495.21 926.11 495.82 925.98 496.37 925.86 496.89 925.74 497.4 925.63 497.95 925.51 498.56 925.37 499.13 925.25 499.63 925.14 500.18 925.02 500.7 924.91 501.23 924.79 501.76 924.68 502.29 924.56 502.83 924.45 503.36 924.34 503.89 924.22 504.44 924.11 504.96 924 505.52 923.88 506.03 923.77 506.61 923.65 507.25 923.52 507.86 923.39 508.43 923.27 509.07 923.14 509.68 923.02 510.28 922.89 510.9 922.77 511.4 922.66 511.97 922.55 512.53 922.44 513.03 922.33 513.64 922.21 514.25 922.09 514.81 921.98 515.32 921.88 515.93 921.76 516.54 921.64 517.11 921.52 517.76 921.4 518.28 921.3 518.82 921.19 519.43 921.07 520.04 920.95 520.63 920.84 521.26 920.72 521.82 920.61 522.33 920.52 522.94 920.4 523.55 920.28 524.15 920.17 524.76 920.05 525.37 919.94 525.98 919.83 526.59 919.71 527.2 919.6 527.81 919.49 528.42 919.37 529.03 919.26 529.54 919.17 530.1 919.07 530.71 918.96 531.31 918.84 531.92 918.73 532.47 918.64 532.99 918.54 533.6 918.43 534.16 918.33 534.82 918.22 535.43 918.11 536.04 918 536.65 917.89 537.17 917.8 537.71 917.7 538.32 917.6 538.91 917.5 539.54 917.39 540.15 917.28 540.66 917.19 541.22 917.1 541.83 916.99 542.44 916.89 543.04 916.78 543.65 916.68 544.23 916.58 544.87 916.48 545.48 916.37 546.03 916.28 546.55 916.19 547.16 916.09 547.77 915.99 548.32 915.9 548.83 915.81 549.44 915.71 550.05 915.61 550.63 915.52 551.27 915.42 551.88 915.32 552.49 915.22 553.1 915.12 553.71 915.02 554.32 914.92 554.86 914.84 555.38 914.75 555.99 914.66 556.6 914.56 557.21 914.46 557.73 914.38 558.28 914.29 558.89 914.2 559.5 914.1 560.11 914.01 560.65 913.92 561.17 913.84 561.78 913.75 562.39 913.66 563 913.56"/>
<path d="M407.6 657.5 410.19 658.69 412.78 659.88 415.37 661.06 417.96 662.25 420.55 663.44 423.14 664.63 425.73 665.82 428.32 667 430.91 668.19 433.5 669.38 436.09 670.57 438.68 671.76 441.27 672.94 443.86 674.13 446.45 675.32 449.04 676.51 451.63 677.69 454.22 678.88 456.81 680.07 459.4 681.26M500.84 700.27 503.43 701.45 506.02 702.64 508.61 703.83 511.2 705.02 513.79 706.21 516.38 707.39 518.97 708.58 521.56 709.77 524.15 710.96 526.74 712.14 529.33 713.33 531.92 714.52 534.51 715.71 537.1 716.9 539.69 718.08 542.28 719.27 544.87 720.46 547.46 721.65 550.05 722.84 552.64 724.02 555.23 725.21 557.82 726.4 560.41 727.59 563 728.78"/>
<path d="M311.79 1113.5 312.04 1113.04 312.26 1112.64 312.5 1112.21 312.72 1111.82 312.96 1111.37 313.22 1110.92 313.47 1110.46 313.73 1110 313.99 1109.55 314.24 1109.11 314.46 1108.71 314.7 1108.3 314.94 1107.88 315.2 1107.42 315.46 1106.98 315.69 1106.58 315.91 1106.2 316.13 1105.82 316.35 1105.44 316.57 1105.06 316.8 1104.68 317.02 1104.3 317.24 1103.92 317.47 1103.54 317.69 1103.16 317.92 1102.78 318.15 1102.4 318.38 1102.02 318.6 1101.64 318.83 1101.26 319.06 1100.88 319.29 1100.5 319.53 1100.12 319.76 1099.74 319.99 1099.36 320.23 1098.98 320.46 1098.6 320.69 1098.22 320.93 1097.84 321.17 1097.46 321.4 1097.09 321.64 1096.7 321.88 1096.32 322.12 1095.94 322.36 1095.56 322.6 1095.18 322.84 1094.8 323.09 1094.42 323.33 1094.04 323.57 1093.66 323.82 1093.28 324.06 1092.9 324.31 1092.52 324.56 1092.14 324.8 1091.76 325.05 1091.38 325.3 1091 325.55 1090.62 325.8 1090.24 326.06 1089.86 326.31 1089.48 326.56 1089.1 326.82 1088.72 327.07 1088.34 327.33 1087.96 327.58 1087.58 327.84 1087.2 328.1 1086.82 328.36 1086.44 328.62 1086.06 328.88 1085.68 329.14 1085.3 329.41 1084.92 329.67 1084.54 329.93 1084.17 330.2 1083.78 330.47 1083.4 330.73 1083.02 331 1082.65 331.27 1082.26 331.54 1081.88 331.81 1081.5 332.06 1081.15 332.35 1080.74 332.63 1080.36 332.9 1079.98 333.18 1079.6 333.43 1079.25 333.73 1078.84 334.01 1078.46 334.29 1078.08 334.57 1077.7 334.85 1077.32 335.11 1076.97 335.41 1076.56 335.7 1076.18 335.98 1075.8 336.27 1075.42 336.55 1075.04 336.84 1074.66 337.13 1074.28 337.39 1073.94 337.7 1073.54 338 1073.14 338.29 1072.76 338.59 1072.38 338.88 1072 339.18 1071.62 339.48 1071.24 339.77 1070.86 340.07 1070.48 340.37 1070.1 340.67 1069.72 340.97 1069.34 341.28 1068.96 341.58 1068.58 341.89 1068.2 342.19 1067.82 342.5 1067.44 342.81 1067.06 343.12 1066.68 343.43 1066.3 343.74 1065.92 344.05 1065.54 344.37 1065.16 344.68 1064.78 345 1064.4 345.32 1064.03 345.62 1063.66 345.93 1063.3 346.21 1062.96 346.53 1062.58 346.84 1062.22 347.12 1061.9 347.44 1061.52 347.75 1061.15 348.06 1060.8 348.36 1060.45 348.67 1060.09 348.95 1059.77 349.28 1059.4 349.58 1059.05 349.88 1058.7 350.19 1058.36 350.49 1058.02 350.8 1057.67 351.1 1057.34 351.41 1056.99 351.71 1056.65 352.02 1056.31 352.32 1055.97 352.63 1055.63 352.93 1055.3 353.22 1054.98 353.54 1054.63 353.85 1054.3 354.15 1053.97 354.46 1053.64 354.76 1053.31 355.06 1052.98 355.37 1052.66 355.67 1052.33 355.97 1052.02 356.28 1051.68 356.59 1051.36 356.89 1051.04 357.19 1050.72 357.5 1050.4 357.81 1050.08 358.11 1049.77 358.42 1049.45 358.72 1049.13 359.02 1048.82 359.33 1048.51 359.63 1048.2 359.94 1047.88 360.24 1047.57 360.55 1047.27 360.85 1046.96 361.16 1046.65 361.46 1046.34 361.77 1046.04 362.07 1045.73 362.38 1045.43 362.68 1045.13 362.99 1044.83 363.29 1044.53 363.6 1044.23 363.9 1043.93 364.2 1043.63 364.51 1043.34 364.81 1043.04 365.12 1042.74 365.44 1042.44 365.75 1042.14 366.07 1041.83 366.39 1041.53 366.71 1041.22 367.03 1040.92 367.35 1040.62 367.67 1040.31 367.99 1040.01 368.32 1039.7 368.64 1039.4 368.97 1039.1 369.3 1038.79 369.63 1038.49 369.96 1038.18 370.29 1037.88 370.6 1037.59 370.95 1037.27 371.29 1036.97 371.62 1036.66 371.96 1036.36 372.28 1036.07 372.63 1035.75 372.97 1035.45 373.31 1035.14 373.65 1034.85 374 1034.54 374.34 1034.23 374.69 1033.93 375.02 1033.64 375.38 1033.32 375.73 1033.02 376.08 1032.71 376.43 1032.41 376.79 1032.1 377.14 1031.8 377.5 1031.5 377.85 1031.19 378.21 1030.89 378.57 1030.58 378.93 1030.28 379.29 1029.98 379.65 1029.67 380.02 1029.37 380.35 1029.09 380.75 1028.76 381.11 1028.46 381.48 1028.15 381.85 1027.85 382.22 1027.54 382.6 1027.24 382.94 1026.96 383.35 1026.63 383.7 1026.34 384.1 1026.02 384.47 1025.73 384.86 1025.42 385.23 1025.12 385.62 1024.81 385.99 1024.52 386.39 1024.2 386.75 1023.92 387.17 1023.59 387.51 1023.33 387.85 1023.06 388.25 1022.76 388.64 1022.45 389.04 1022.15 389.43 1021.84 389.8 1021.57 390.23 1021.24 390.63 1020.93 391.02 1020.64 391.44 1020.32 391.84 1020.02 392.23 1019.73 392.66 1019.41 393.07 1019.11 393.45 1018.82 393.89 1018.5 394.31 1018.2 394.67 1017.93 395.04 1017.66 395.43 1017.38 395.87 1017.06 396.3 1016.75 396.65 1016.5 397.04 1016.22 397.41 1015.95 397.79 1015.69 398.18 1015.41 398.54 1015.16 398.94 1014.87 399.29 1014.62 399.7 1014.34 400.05 1014.09 400.46 1013.81 400.82 1013.56 401.22 1013.28 401.59 1013.03 401.98 1012.76 402.37 1012.5 402.75 1012.24 403.15 1011.96 403.6 1011.66 403.96 1011.42 404.39 1011.13 404.85 1010.82 405.3 1010.52M452.56 984.3 453.02 984.09 453.47 983.88 453.89 983.69 454.38 983.46 454.84 983.26 455.3 983.05 455.72 982.86 456.21 982.63 456.67 982.43 457.13 982.22 457.58 982.02 458.04 981.82 458.5 981.61 458.95 981.41 459.41 981.21 459.87 981.01 460.33 980.81 460.78 980.61 461.2 980.42 461.7 980.21 462.16 980.01 462.61 979.82 463.07 979.62 463.49 979.44 463.98 979.23 464.44 979.03 464.9 978.84 465.35 978.64 465.81 978.45 466.27 978.26 466.72 978.07 467.18 977.87 467.63 977.69 468.1 977.49 468.54 977.31 469.01 977.11 469.46 976.93 469.92 976.74 470.38 976.55 470.84 976.36 471.3 976.18 471.75 975.99 472.21 975.81 472.67 975.62 473.12 975.44 473.57 975.26 474.04 975.07 474.49 974.89 474.95 974.71 475.41 974.53 475.87 974.34 476.32 974.16 476.78 973.99 477.22 973.81 477.69 973.63 478.15 973.45 478.59 973.28 479.06 973.09 479.52 972.92 479.96 972.75 480.44 972.57 480.89 972.39 481.35 972.22 481.81 972.04 482.26 971.87 482.72 971.7 483.16 971.53 483.63 971.35 484.09 971.18 484.55 971.01 485.01 970.84 485.46 970.67 485.92 970.5 486.38 970.33 486.83 970.16 487.29 970 487.75 969.83 488.2 969.66 488.66 969.49 489.12 969.33 489.58 969.16 490.03 969 490.49 968.83 490.95 968.67 491.4 968.51 491.86 968.34 492.32 968.18 492.77 968.02 493.23 967.86 493.69 967.69 494.15 967.53 494.6 967.37 495.06 967.21 495.52 967.05 495.97 966.9 496.43 966.74 496.89 966.58 497.34 966.42 497.8 966.26 498.26 966.1 498.72 965.95 499.17 965.79 499.63 965.64 500.09 965.48 500.54 965.33 501 965.17 501.46 965.02 501.91 964.86 502.37 964.71 502.83 964.56 503.29 964.41 503.74 964.25 504.2 964.1 504.66 963.95 505.11 963.8 505.57 963.65 506.03 963.5 506.48 963.35 506.94 963.2 507.4 963.05 507.86 962.91 508.31 962.76 508.77 962.61 509.23 962.46 509.68 962.32 510.14 962.17 510.6 962.03 511.05 961.88 511.51 961.73 511.97 961.59 512.43 961.45 512.88 961.3 513.34 961.16 513.8 961.02 514.41 960.83 514.92 960.66 515.41 960.51 515.91 960.36 516.39 960.21 516.89 960.06 517.39 959.9 517.88 959.75 518.37 959.6 518.88 959.45 519.38 959.3 519.89 959.14 520.39 958.99 520.9 958.84 521.4 958.69 521.87 958.55 522.42 958.38 522.93 958.23 523.44 958.08 523.96 957.93 524.46 957.78 524.99 957.62 525.51 957.47 525.98 957.33 526.55 957.17 527.05 957.02 527.6 956.86 528.12 956.72 528.66 956.56 529.18 956.41 529.72 956.26 530.25 956.1 530.78 955.95 531.31 955.8 531.86 955.65 532.38 955.5 532.94 955.34 533.45 955.2 534.02 955.04 534.51 954.9 535.11 954.74 535.66 954.58 536.19 954.44 536.77 954.28 537.26 954.15 537.87 953.98 538.43 953.82 538.93 953.69 539.54 953.52 540.11 953.37 540.61 953.23 541.22 953.07 541.81 952.91 542.38 952.76 542.89 952.62 543.5 952.46 544.1 952.3 544.67 952.15 545.18 952.02 545.79 951.86 546.4 951.7 546.99 951.54 547.58 951.39 548.07 951.26 548.68 951.11 549.29 950.95 549.9 950.79 550.51 950.64 551.12 950.48 551.72 950.33 552.32 950.18 552.93 950.02 553.53 949.87 554.01 949.75 554.62 949.6 555.23 949.45 555.84 949.29 556.45 949.14 557.06 948.99 557.67 948.84 558.28 948.69 558.89 948.54 559.5 948.39 559.98 948.28 560.56 948.13 561.17 947.99 561.78 947.84 562.39 947.69 563 947.55"/>
<path d="M363.23 1113.5 363.52 1113.12 363.8 1112.74 364.09 1112.36 364.36 1112 364.66 1111.6 364.95 1111.22 365.24 1110.84 365.53 1110.46 365.82 1110.08 366.11 1109.7 366.4 1109.32 366.7 1108.94 366.99 1108.56 367.29 1108.18 367.56 1107.83 367.82 1107.5 368.12 1107.12 368.42 1106.74 368.72 1106.36 369.02 1105.98 369.32 1105.6 369.62 1105.22 369.92 1104.84 370.23 1104.46 370.53 1104.08 370.84 1103.7 371.14 1103.32 371.45 1102.94 371.76 1102.56 372.07 1102.18 372.38 1101.8 372.69 1101.42 373.01 1101.04 373.32 1100.66 373.63 1100.28 373.95 1099.9 374.26 1099.52 374.56 1099.16 374.87 1098.79 375.16 1098.45 375.48 1098.07 375.78 1097.71 376.09 1097.35 376.38 1097.01 376.7 1096.63 377 1096.28 377.29 1095.94 377.61 1095.57 377.92 1095.21 378.2 1094.88 378.52 1094.51 378.83 1094.16 379.13 1093.82 379.44 1093.46 379.73 1093.13 380.05 1092.77 380.33 1092.45 380.66 1092.08 380.96 1091.74 381.27 1091.39 381.57 1091.05 381.88 1090.71 382.16 1090.4 382.49 1090.04 382.78 1089.71 383.09 1089.36 383.4 1089.03 383.7 1088.69 384.01 1088.36 384.3 1088.04 384.62 1087.69 384.92 1087.36 385.23 1087.03 385.53 1086.7 385.84 1086.38 386.13 1086.06 386.45 1085.72 386.75 1085.4 387.05 1085.08 387.36 1084.75 387.66 1084.43 387.97 1084.11 388.27 1083.78 388.58 1083.47 388.88 1083.15 389.19 1082.83 389.49 1082.51 389.8 1082.19 390.1 1081.88 390.41 1081.56 390.71 1081.25 391.02 1080.94 391.32 1080.63 391.62 1080.31 391.93 1080 392.23 1079.7 392.54 1079.39 392.84 1079.08 393.15 1078.77 393.45 1078.47 393.76 1078.16 394.06 1077.86 394.37 1077.55 394.67 1077.25 394.98 1076.95 395.28 1076.65 395.59 1076.35 395.89 1076.05 396.19 1075.75 396.5 1075.45 396.8 1075.15 397.11 1074.86 397.41 1074.56 397.78 1074.21 398.09 1073.9 398.41 1073.6 398.73 1073.3 399.04 1072.99 399.36 1072.69 399.68 1072.38 400 1072.08 400.32 1071.78 400.65 1071.47 400.97 1071.17 401.29 1070.86 401.62 1070.56 401.95 1070.26 402.27 1069.95 402.59 1069.65 402.93 1069.34 403.26 1069.04 403.59 1068.74 403.92 1068.43 404.25 1068.13 404.57 1067.83 404.92 1067.52 405.25 1067.22 405.59 1066.91 405.93 1066.61 406.25 1066.32 406.61 1066 406.95 1065.7 407.29 1065.39 407.62 1065.1 407.97 1064.78 408.32 1064.48 408.66 1064.18 408.99 1063.89 409.35 1063.57 409.7 1063.26 410.05 1062.96 410.4 1062.66 410.75 1062.35 411.1 1062.05 411.43 1061.77 411.81 1061.44 412.16 1061.14 412.49 1060.85 412.88 1060.53 413.24 1060.22 413.6 1059.92 413.96 1059.62 414.32 1059.31 414.68 1059.01 415.04 1058.7 415.39 1058.42 415.77 1058.1 416.14 1057.79 416.51 1057.49 416.88 1057.18 417.22 1056.9 417.62 1056.58 417.98 1056.28 418.36 1055.97 418.74 1055.66 419.11 1055.36 419.49 1055.06 419.87 1054.75 420.25 1054.45 420.63 1054.14 421.01 1053.84 421.39 1053.54 421.78 1053.23 422.16 1052.93 422.55 1052.62 422.93 1052.32 423.31 1052.02 423.71 1051.71 424.07 1051.43 424.49 1051.1 424.83 1050.84 425.18 1050.57 425.58 1050.27 425.97 1049.96 426.36 1049.67 426.77 1049.36 427.12 1049.09 427.47 1048.82 427.87 1048.52 428.28 1048.22 428.64 1047.94 428.99 1047.68 429.39 1047.38 429.8 1047.08 430.17 1046.81 430.52 1046.54 430.93 1046.24 431.35 1045.94 431.76 1045.63 432.15 1045.35 432.59 1045.02 433.01 1044.72 433.36 1044.46 433.75 1044.19 434.13 1043.92 434.49 1043.66 434.89 1043.37 435.34 1043.05 435.76 1042.74 436.19 1042.44 436.56 1042.18 436.95 1041.91 437.33 1041.64 437.7 1041.38 438.09 1041.11 438.47 1040.84 438.85 1040.58 439.23 1040.31 439.61 1040.05 440 1039.78 440.37 1039.53 440.78 1039.25 441.22 1038.94 441.59 1038.69 442 1038.41 442.45 1038.11 442.9 1037.8 443.27 1037.56 443.7 1037.27 444.15 1036.97 444.61 1036.66 445.06 1036.36 445.52 1036.06 445.98 1035.75 446.45 1035.45 446.91 1035.14 447.37 1034.84 447.84 1034.54 448.29 1034.24 448.66 1034 449.05 1033.75 449.49 1033.47 449.96 1033.17 450.43 1032.87 450.79 1032.64 451.19 1032.39 451.63 1032.1 452.1 1031.81 452.47 1031.57 452.86 1031.33 453.32 1031.04 453.78 1030.76 454.18 1030.51 454.67 1030.2 455.15 1029.91 455.53 1029.67 455.91 1029.44 456.37 1029.16 456.77 1028.91 457.14 1028.68 457.52 1028.46 457.89 1028.23 458.27 1028 458.65 1027.77 459.02 1027.54 459.4 1027.32 459.79 1027.09 460.17 1026.86 460.55 1026.63 460.93 1026.4 461.32 1026.18 461.7 1025.95 462.09 1025.72 462.48 1025.49 462.87 1025.26 463.26 1025.04 463.65 1024.81 464.04 1024.58 464.43 1024.35 464.83 1024.12 465.22 1023.9 465.62 1023.67 466.02 1023.44 466.42 1023.21 466.81 1022.98 467.22 1022.76 467.62 1022.53 468.02 1022.3 468.42 1022.07 468.83 1021.84 469.23 1021.62 469.62 1021.4 470.05 1021.16 470.46 1020.93 470.87 1020.7 471.28 1020.48 471.69 1020.25 472.11 1020.02 472.51 1019.8 472.94 1019.56 473.35 1019.34 473.77 1019.11 474.19 1018.88 474.61 1018.65 475.03 1018.42 475.46 1018.2 475.87 1017.98 476.31 1017.74 476.73 1017.51 477.16 1017.28 477.59 1017.06 478 1016.84 478.45 1016.6 478.88 1016.37 479.32 1016.14 479.75 1015.92 480.19 1015.69 480.59 1015.48 481.04 1015.24 481.5 1015 481.94 1014.78 482.39 1014.55 482.83 1014.32 483.27 1014.09 483.72 1013.86 484.17 1013.64 484.62 1013.41 485.07 1013.18 485.52 1012.95 485.92 1012.75 486.38 1012.52 486.83 1012.29 487.29 1012.06 487.75 1011.83 488.2 1011.61 488.66 1011.38 489.12 1011.15 489.58 1010.93 490.03 1010.71 490.49 1010.48 490.95 1010.26 491.4 1010.04 491.81 1009.84 492.28 1009.61 492.76 1009.38 493.23 1009.15 493.69 1008.93 494.15 1008.71 494.6 1008.49 495.06 1008.28 495.52 1008.06 495.94 1007.86 496.42 1007.63 496.89 1007.41 497.34 1007.2 497.8 1006.98 498.26 1006.77 498.69 1006.57 499.17 1006.35 499.63 1006.13 500.09 1005.92 500.5 1005.73 501 1005.5 501.46 1005.29 501.91 1005.08 502.37 1004.88 502.83 1004.67 503.29 1004.46 503.74 1004.25 504.17 1004.06 504.66 1003.84 505.11 1003.64 505.53 1003.45 506.03 1003.23 506.48 1003.03 506.94 1002.82 507.4 1002.62 507.86 1002.42 508.27 1002.24 508.77 1002.02 509.23 1001.82 509.66 1001.63 510.14 1001.42 510.6 1001.22 511.05 1001.02 511.51 1000.83 511.95 1000.64 512.43 1000.43 512.88 1000.24 513.34 1000.04 513.8 999.85 514.25 999.66 514.71 999.46 515.16 999.27 515.62 999.08 516.06 998.89 516.54 998.69 516.97 998.51 517.45 998.31 517.88 998.13 518.37 997.93 518.8 997.75 519.28 997.55 519.72 997.37 520.19 997.18 520.65 996.99 521.11 996.8 521.57 996.62 522.02 996.43 522.48 996.25 522.94 996.06 523.39 995.88 523.84 995.7 524.31 995.51 524.76 995.33 525.22 995.15 525.68 994.96 526.12 994.79 526.59 994.6 527.05 994.42 527.51 994.24 527.96 994.06 528.42 993.88 528.88 993.7 529.33 993.53 529.79 993.35 530.25 993.17 530.71 992.99 531.16 992.82 531.62 992.64 532.08 992.47 532.53 992.29 532.99 992.12 533.45 991.94 533.9 991.77 534.36 991.6 534.82 991.42 535.28 991.25 535.73 991.08 536.17 990.91 536.65 990.73 537.1 990.56 537.56 990.39 538 990.23 538.47 990.05 538.93 989.88 539.39 989.72 539.85 989.55 540.3 989.38 540.76 989.21 541.22 989.05 541.67 988.88 542.13 988.71 542.59 988.55 543.04 988.38 543.5 988.22 543.96 988.05 544.42 987.89 544.87 987.72 545.33 987.56 545.79 987.4 546.24 987.23 546.7 987.07 547.16 986.91 547.61 986.75 548.07 986.59 548.53 986.43 548.99 986.27 549.44 986.11 549.9 985.95 550.36 985.79 550.81 985.63 551.27 985.47 551.73 985.31 552.18 985.16 552.64 985 553.1 984.84 553.56 984.69 554.01 984.53 554.46 984.38 554.93 984.22 555.38 984.06 555.84 983.91 556.3 983.75 556.75 983.6 557.21 983.45 557.67 983.29 558.13 983.14 558.58 982.99 559.04 982.84 559.5 982.68 559.95 982.53 560.41 982.38 560.87 982.23 561.32 982.08 561.78 981.93 562.24 981.78 562.7 981.63 563 981.53"/>
<path d="M414.68 1113.5 415.04 1113.12 415.39 1112.75 415.69 1112.44 416 1112.11 416.3 1111.79 416.61 1111.47 416.91 1111.16 417.22 1110.84 417.52 1110.52 417.83 1110.21 418.13 1109.89 418.44 1109.58 418.74 1109.27 419.04 1108.96 419.35 1108.65 419.65 1108.34 419.96 1108.03 420.26 1107.72 420.56 1107.42 420.86 1107.12 421.16 1106.81 421.46 1106.51 421.77 1106.2 422.07 1105.9 422.38 1105.6 422.68 1105.29 422.99 1104.99 423.29 1104.68 423.6 1104.38 423.91 1104.08 424.22 1103.77 424.53 1103.47 424.83 1103.17 425.14 1102.87 425.44 1102.58 425.75 1102.28 426.09 1101.95 426.41 1101.64 426.72 1101.34 427.04 1101.04 427.36 1100.73 427.67 1100.43 427.99 1100.12 428.31 1099.82 428.63 1099.52 428.95 1099.22 429.27 1098.91 429.6 1098.6 429.92 1098.3 430.24 1098 430.57 1097.69 430.89 1097.39 431.22 1097.08 431.54 1096.79 431.88 1096.48 432.21 1096.17 432.54 1095.87 432.87 1095.56 433.2 1095.26 433.52 1094.97 433.86 1094.65 434.2 1094.35 434.53 1094.04 434.87 1093.74 435.19 1093.45 435.54 1093.13 435.88 1092.83 436.22 1092.52 436.56 1092.22 436.9 1091.92 437.24 1091.61 437.58 1091.31 437.93 1091 438.27 1090.7 438.62 1090.4 438.96 1090.09 439.31 1089.79 439.66 1089.48 440.01 1089.18 440.36 1088.88 440.71 1088.57 441.06 1088.27 441.41 1087.96 441.74 1087.68 442.12 1087.36 442.47 1087.05 442.81 1086.76 443.19 1086.44 443.54 1086.14 443.88 1085.86 444.26 1085.53 444.62 1085.23 444.98 1084.92 445.35 1084.62 445.7 1084.32 446.08 1084.01 446.44 1083.71 446.77 1083.44 447.17 1083.1 447.53 1082.81 447.91 1082.49 448.28 1082.19 448.65 1081.88 449.03 1081.58 449.36 1081.31 449.77 1080.97 450.12 1080.69 450.53 1080.36 450.88 1080.08 451.28 1079.76 451.64 1079.46 452.04 1079.15 452.41 1078.86 452.8 1078.54 453.17 1078.25 453.57 1077.93 453.93 1077.65 454.34 1077.32 454.69 1077.05 455.12 1076.72 455.51 1076.41 455.9 1076.11 456.29 1075.8 456.67 1075.51 457.08 1075.2 457.43 1074.92 457.77 1074.66 458.17 1074.36 458.57 1074.06 458.96 1073.76 459.37 1073.45 459.72 1073.18 460.07 1072.92 460.47 1072.61 460.88 1072.31 461.24 1072.04 461.59 1071.78 462 1071.47 462.41 1071.17 462.76 1070.9 463.12 1070.64 463.53 1070.34 463.95 1070.03 464.36 1069.72 464.75 1069.44 465.19 1069.12 465.61 1068.81 465.96 1068.56 466.35 1068.28 466.73 1068.01 467.08 1067.75 467.49 1067.46M512.05 1039.63 512.47 1039.4 512.88 1039.18 513.31 1038.94 513.74 1038.72 514.16 1038.49 514.56 1038.27 515.01 1038.03 515.44 1037.8 515.87 1037.58 516.3 1037.35 516.69 1037.14 517.15 1036.9 517.59 1036.66 518.02 1036.44 518.46 1036.21 518.9 1035.98 519.33 1035.75 519.74 1035.54 520.19 1035.3 520.65 1035.07 521.09 1034.84 521.53 1034.61 521.98 1034.38 522.42 1034.16 522.87 1033.93 523.32 1033.7 523.76 1033.47 524.21 1033.24 524.61 1033.04 525.07 1032.81 525.53 1032.58 525.98 1032.35 526.44 1032.12 526.9 1031.89 527.35 1031.67 527.81 1031.44 528.27 1031.21 528.72 1030.99 529.18 1030.76 529.64 1030.53 530.1 1030.31 530.55 1030.09 531.01 1029.86 531.47 1029.64 531.87 1029.44 532.34 1029.22 532.81 1028.99 533.29 1028.76 533.75 1028.54 534.21 1028.32 534.67 1028.1 535.12 1027.88 535.58 1027.66 536.04 1027.44 536.47 1027.24 536.95 1027.01 537.41 1026.8 537.87 1026.58 538.32 1026.37 538.78 1026.15 539.21 1025.95 539.69 1025.73 540.15 1025.51 540.61 1025.3 541.06 1025.09 541.51 1024.88 541.98 1024.67 542.43 1024.46 542.89 1024.25 543.33 1024.05 543.81 1023.83 544.26 1023.62 544.72 1023.42 545.17 1023.21 545.63 1023 546.09 1022.8 546.52 1022.6 547 1022.39 547.46 1022.18 547.88 1022 548.38 1021.78 548.83 1021.57 549.25 1021.39 549.75 1021.17 550.2 1020.97 550.63 1020.78 551.12 1020.57 551.57 1020.37 552.02 1020.17 552.49 1019.97 552.95 1019.77 553.4 1019.57 553.86 1019.37 554.3 1019.18 554.77 1018.98 555.23 1018.78 555.69 1018.59 556.14 1018.39 556.6 1018.2 557.06 1018 557.5 1017.82 557.97 1017.62 558.4 1017.44 558.89 1017.23 559.34 1017.04 559.8 1016.85 560.26 1016.66 560.71 1016.47 561.17 1016.28 561.63 1016.09 562.09 1015.9 562.54 1015.71 563 1015.52"/>
<path d="M466.13 1113.5 466.47 1113.2 466.82 1112.89 467.17 1112.59 467.52 1112.28 467.87 1111.98 468.22 1111.68 468.55 1111.39 468.93 1111.07 469.28 1110.76 469.62 1110.48 469.99 1110.16 470.35 1109.85 470.69 1109.57 471.07 1109.24 471.43 1108.94 471.75 1108.66 472.15 1108.33 472.51 1108.03 472.87 1107.72 473.23 1107.42 473.58 1107.13 473.96 1106.81 474.33 1106.51 474.7 1106.2 475.06 1105.9 475.41 1105.62 475.8 1105.29 476.17 1104.99 476.54 1104.68 476.92 1104.38 477.29 1104.08 477.66 1103.77 478 1103.5 478.41 1103.16 478.76 1102.89 479.17 1102.56 479.52 1102.27 479.93 1101.95 480.28 1101.66 480.69 1101.34 481.04 1101.06 481.46 1100.73 481.81 1100.45 482.22 1100.12 482.57 1099.85 483 1099.52 483.39 1099.21 483.77 1098.91 484.16 1098.6 484.55 1098.31 484.95 1098 485.31 1097.72 485.73 1097.39 486.13 1097.08 486.53 1096.78 486.92 1096.48 487.29 1096.19 487.72 1095.87 488.12 1095.56 488.51 1095.27 488.92 1094.96 489.27 1094.69 489.63 1094.42 490.03 1094.12 490.44 1093.82 490.79 1093.55 491.15 1093.28 491.56 1092.98 491.97 1092.68 492.32 1092.42 492.69 1092.14 493.08 1091.85 493.51 1091.54 493.93 1091.23 494.3 1090.96 494.66 1090.7 495.06 1090.41 495.49 1090.09 495.91 1089.79 496.28 1089.52 496.65 1089.26 497.04 1088.97 497.49 1088.65 497.92 1088.34 498.34 1088.04 498.72 1087.78 499.09 1087.51 499.48 1087.24 499.84 1086.98 500.24 1086.7 500.6 1086.44 501 1086.16 501.36 1085.91 501.76 1085.63 502.12 1085.38 502.52 1085.1 502.88 1084.85 503.29 1084.57 503.65 1084.32 504.05 1084.04 504.42 1083.78 504.81 1083.52 505.2 1083.25 505.57 1083 505.98 1082.72 506.43 1082.42 506.79 1082.17 507.21 1081.88 507.66 1081.58 508.11 1081.28 508.57 1080.97 509.02 1080.67 509.47 1080.36 509.84 1080.12 510.27 1079.83 510.73 1079.53 511.19 1079.22 511.65 1078.92 512.11 1078.62 512.58 1078.31 513.03 1078.01 513.49 1077.72 513.86 1077.48 514.25 1077.22 514.68 1076.94 515.15 1076.64 515.62 1076.34 516.08 1076.04 516.45 1075.8 516.84 1075.55 517.28 1075.27 517.76 1074.97 518.21 1074.68 518.6 1074.44 518.98 1074.2 519.43 1073.91 519.8 1073.68 520.19 1073.43 520.65 1073.14 521.11 1072.86 521.5 1072.61 521.99 1072.31 522.48 1072.01 522.85 1071.78 523.24 1071.54 523.7 1071.26 524.09 1071.02 524.46 1070.79 524.83 1070.56 525.21 1070.33 525.58 1070.1 525.96 1069.88 526.33 1069.65 526.71 1069.42 527.09 1069.19 527.46 1068.96 527.84 1068.74 528.22 1068.51 528.61 1068.28 528.99 1068.05 529.37 1067.82 529.75 1067.6 530.14 1067.37 530.52 1067.14 530.91 1066.91 531.29 1066.68 531.68 1066.46 532.07 1066.23 532.46 1066 532.84 1065.78 533.24 1065.54 533.63 1065.32 534.02 1065.09 534.42 1064.86 534.81 1064.63 535.2 1064.4 535.6 1064.18 536 1063.95 536.39 1063.72 536.79 1063.49 537.19 1063.26 537.59 1063.04 537.99 1062.81 538.4 1062.58 538.78 1062.36 539.2 1062.12 539.61 1061.9 540 1061.68 540.42 1061.44 540.82 1061.21 541.22 1060.99 541.64 1060.76 542.05 1060.53 542.46 1060.3 542.87 1060.07 543.29 1059.84 543.7 1059.62 544.11 1059.39 544.53 1059.16 544.95 1058.93 545.36 1058.7 545.78 1058.48 546.2 1058.25 546.62 1058.02 547.04 1057.79 547.46 1057.56 547.88 1057.34 548.31 1057.11 548.73 1056.88 549.14 1056.66 549.59 1056.42 550.01 1056.2 550.44 1055.97 550.87 1055.74 551.27 1055.53 551.73 1055.29 552.16 1055.06 552.6 1054.83 553.03 1054.6 553.47 1054.37 553.9 1054.14 554.32 1053.93 554.77 1053.69 555.22 1053.46 555.66 1053.23 556.1 1053 556.54 1052.78 556.99 1052.55 557.43 1052.32 557.87 1052.09 558.28 1051.89 558.73 1051.65 559.19 1051.42 559.65 1051.19 560.11 1050.96 560.56 1050.73 561.02 1050.5 561.47 1050.27 561.93 1050.04 562.38 1049.81 562.84 1049.58 563 1049.5"/>
<path d="M517.57 1113.5 517.98 1113.2 518.37 1112.91 518.8 1112.59 519.21 1112.28 519.59 1112.01 520.03 1111.68 520.45 1111.37 520.8 1111.11 521.17 1110.84 521.57 1110.55 522.01 1110.23 522.42 1109.93 522.78 1109.67 523.16 1109.4 523.55 1109.12 524 1108.79 524.42 1108.48 524.85 1108.18M553.86 1088.96 554.24 1088.72 554.62 1088.5 554.99 1088.27 555.37 1088.04 555.74 1087.81 556.12 1087.58 556.5 1087.36 556.87 1087.13 557.25 1086.9 557.63 1086.67 558.01 1086.44 558.39 1086.22 558.77 1085.99 559.15 1085.76 559.54 1085.53 559.92 1085.3 560.31 1085.08 560.69 1084.85 561.08 1084.62 561.46 1084.39 561.85 1084.16 562.24 1083.94 562.63 1083.71 563 1083.49"/>
</g>
<path d="M105.5 494.5H564" stroke="#000" stroke-width="1" fill="none"/>
<path d="M106 36V495" stroke="#000" stroke-width="1" fill="none"/>
<path d="M106 36.5H563.5V494.5" stroke="#222" stroke-width="1" fill="none"/>
<path d="M105 1114.5H563.5" stroke="#000" stroke-width="1" fill="none"/>
<path d="M105.5 657V1115" stroke="#000" stroke-width="1" fill="none"/>
<path d="M105.5 657.5H563V1114.5" stroke="#222" stroke-width="1" fill="none"/>
<path d="M106 495V505M197.5 495V505M289 495V505M380.5 495V505M472 495V505M563.5 495V505M95 494.5H106M95 402.9H106M95 311.3H106M95 219.7H106M95 128.1H106M95 36.5H106M105.5 1115V1126M181.65 1115V1126M257.8 1115V1126M333.95 1115V1126M410.1 1115V1126M486.25 1115V1126M562.4 1115V1126M95 1114.5H105M94 1000.25H105M94 886H105M94 771.75H105M94 657.5H105" stroke="#000" stroke-width="1" fill="none"/>
<g font-size="22" fill="#111">
<text x="84.2" y="500.8" text-anchor="end" textLength="13.8" lengthAdjust="spacingAndGlyphs">0</text>
<text x="84.2" y="409.2" text-anchor="end" textLength="30.7" lengthAdjust="spacingAndGlyphs">0.5</text>
<text x="84.2" y="317.6" text-anchor="end" textLength="28.1" lengthAdjust="spacingAndGlyphs">1.0</text>
<text x="84.2" y="226" text-anchor="end" textLength="27.1" lengthAdjust="spacingAndGlyphs">1.5</text>
<text x="84.2" y="134.4" text-anchor="end" textLength="32" lengthAdjust="spacingAndGlyphs">2.0</text>
<text x="84.2" y="42.8" text-anchor="end" textLength="31" lengthAdjust="spacingAndGlyphs">2.5</text>
<text x="106" y="531" text-anchor="middle" textLength="14.4" lengthAdjust="spacingAndGlyphs">0</text>
<text x="197.5" y="531" text-anchor="middle" textLength="31.4" lengthAdjust="spacingAndGlyphs">0.3</text>
<text x="289" y="531" text-anchor="middle" textLength="31.6" lengthAdjust="spacingAndGlyphs">0.6</text>
<text x="380.5" y="531" text-anchor="middle" textLength="31.6" lengthAdjust="spacingAndGlyphs">0.9</text>
<text x="472" y="531" text-anchor="middle" textLength="26.1" lengthAdjust="spacingAndGlyphs">1.2</text>
<text x="563.5" y="531" text-anchor="middle" textLength="27.1" lengthAdjust="spacingAndGlyphs">1.5</text>
<text x="84.2" y="1120.8" text-anchor="end" textLength="13.8" lengthAdjust="spacingAndGlyphs">0</text>
<text x="84.2" y="1006.55" text-anchor="end" textLength="31.4" lengthAdjust="spacingAndGlyphs">0.3</text>
<text x="84.2" y="892.3" text-anchor="end" textLength="31.6" lengthAdjust="spacingAndGlyphs">0.6</text>
<text x="84.2" y="778.05" text-anchor="end" textLength="31.6" lengthAdjust="spacingAndGlyphs">0.9</text>
<text x="84.2" y="663.8" text-anchor="end" textLength="26.1" lengthAdjust="spacingAndGlyphs">1.2</text>
<text x="105.5" y="1152.2" text-anchor="middle" textLength="14.6" lengthAdjust="spacingAndGlyphs">0</text>
<text x="181.65" y="1152.2" text-anchor="middle" textLength="24.2" lengthAdjust="spacingAndGlyphs">47</text>
<text x="257.8" y="1152.2" text-anchor="middle" textLength="26" lengthAdjust="spacingAndGlyphs">94</text>
<text x="333.95" y="1152.2" text-anchor="middle" textLength="31.2" lengthAdjust="spacingAndGlyphs">141</text>
<text x="410.1" y="1152.2" text-anchor="middle" textLength="35" lengthAdjust="spacingAndGlyphs">188</text>
<text x="486.25" y="1152.2" text-anchor="middle" textLength="37.4" lengthAdjust="spacingAndGlyphs">235</text>
<text x="562.4" y="1152.2" text-anchor="middle" textLength="35.8" lengthAdjust="spacingAndGlyphs">282</text>
</g>
<g font-size="24.5" fill="#111">
<text x="335" y="567.6" text-anchor="middle" textLength="361" lengthAdjust="spacingAndGlyphs">Energy emissions (g CO<tspan font-size="17" dy="6.7">2</tspan><tspan dy="-6.7"> kcal</tspan><tspan font-size="16" dy="-8">−1</tspan><tspan dy="8">)</tspan></text>
<text x="335" y="1187.8" text-anchor="middle" textLength="470" lengthAdjust="spacingAndGlyphs">Emissions intensity of energy (gCO<tspan font-size="17" dy="6.7">2</tspan><tspan dy="-6.7"> MJ</tspan><tspan font-size="16" dy="-8">−1</tspan><tspan dy="8">)</tspan></text>
<text transform="translate(24.2 265) rotate(-90)" text-anchor="middle" textLength="435" lengthAdjust="spacingAndGlyphs">Land-use emissions (g CO<tspan font-size="17" dy="6.7">2</tspan><tspan dy="-6.7">-eq kcal</tspan><tspan font-size="16" dy="-8">−1</tspan><tspan dy="8">)</tspan></text>
<text transform="translate(23.8 885.5) rotate(-90)" text-anchor="middle" textLength="413" lengthAdjust="spacingAndGlyphs">Feedstock emissions (g CO<tspan font-size="17" dy="6.7">2</tspan><tspan dy="-6.7"> kcal</tspan><tspan font-size="16" dy="-8">−1</tspan><tspan dy="8">)</tspan></text>
<text x="334.9" y="19" text-anchor="middle" textLength="181.5" lengthAdjust="spacingAndGlyphs">Agricultural fats</text>
<text x="334.2" y="639.8" text-anchor="middle" textLength="156.5" lengthAdjust="spacingAndGlyphs">Synthetic fats</text>
</g>
<text x="2.5" y="19.8" font-size="36" font-weight="bold" fill="#000">a</text>
<text x="2.6" y="640.5" font-size="36" font-weight="bold" fill="#000" textLength="23.6" lengthAdjust="spacingAndGlyphs">b</text>
<g font-size="23.5" font-style="italic" fill="#000" text-anchor="middle">
<text x="521.35" y="112.6" textLength="35.5" lengthAdjust="spacingAndGlyphs">3.5</text>
<text x="444.45" y="163.9" textLength="35.9" lengthAdjust="spacingAndGlyphs">3.0</text>
<text x="364" y="214.7" textLength="35" lengthAdjust="spacingAndGlyphs">2.5</text>
<text x="286.65" y="264.6" textLength="35.7" lengthAdjust="spacingAndGlyphs">2.0</text>
<text x="209.15" y="315.7" textLength="29.3" lengthAdjust="spacingAndGlyphs">1.5</text>
<text x="247.7" y="444.7" textLength="30.2" lengthAdjust="spacingAndGlyphs">1.0</text>
<text x="147.85" y="482.3" textLength="35.5" lengthAdjust="spacingAndGlyphs">0.5</text>
<text x="478.4" y="701.3" textLength="31" lengthAdjust="spacingAndGlyphs">1.5</text>
<text x="137.15" y="963.2" textLength="35.9" lengthAdjust="spacingAndGlyphs">0.5</text>
<text x="381.35" y="907.7" textLength="30.9" lengthAdjust="spacingAndGlyphs">1.0</text>
<text x="428.5" y="1004" textLength="35.8" lengthAdjust="spacingAndGlyphs">2.0</text>
<text x="487.45" y="1061.8" textLength="36.9" lengthAdjust="spacingAndGlyphs">3.0</text>
<text x="535.85" y="1108.3" textLength="36.9" lengthAdjust="spacingAndGlyphs">4.0</text>
</g>
<rect x="597" y="249.5" width="26" height="656" fill="url(#gc)" stroke="#000" stroke-width="1"/>
<path d="M623 905.5H630M623 831.16H630M623 756.83H630M623 682.49H630M623 608.15H630M623 533.81H630M623 459.47H630M623 385.14H630M623 310.8H630" stroke="#000" stroke-width="1" fill="none"/>
<g font-size="22" fill="#111">
<text x="640.2" y="912.5" text-anchor="start" textLength="14" lengthAdjust="spacingAndGlyphs">0</text>
<text x="640.2" y="763.83" text-anchor="start" textLength="28.1" lengthAdjust="spacingAndGlyphs">1.0</text>
<text x="640.2" y="615.15" text-anchor="start" textLength="32" lengthAdjust="spacingAndGlyphs">2.0</text>
<text x="640.2" y="466.47" text-anchor="start" textLength="32" lengthAdjust="spacingAndGlyphs">3.0</text>
<text x="640.2" y="317.8" text-anchor="start" textLength="32.1" lengthAdjust="spacingAndGlyphs">4.0</text>
</g>
<g font-size="24.5" fill="#111">
<text x="578.8" y="204.9" textLength="60.5" lengthAdjust="spacingAndGlyphs">g CO</text>
<text x="639.2" y="212.1" font-size="16" textLength="9.6" lengthAdjust="spacingAndGlyphs">2</text>
<text x="649.6" y="204.9" textLength="38.5" lengthAdjust="spacingAndGlyphs">-eq</text>
<text x="601.2" y="233.6" textLength="47.6" lengthAdjust="spacingAndGlyphs">kcal</text>
<text x="648.4" y="221.4" font-size="16" textLength="15.2" lengthAdjust="spacingAndGlyphs">−1</text>
</g>
<circle cx="357.2" cy="78.3" r="11.5" fill="#fa1c1e" stroke="#fff" stroke-width="2.3"/>
<circle cx="161.9" cy="207.8" r="11.5" fill="#fa1c1e" stroke="#fff" stroke-width="2.3"/>
<circle cx="157.9" cy="305.6" r="11.5" fill="#fa1c1e" stroke="#fff" stroke-width="2.3"/>
<circle cx="148.3" cy="392.4" r="11.5" fill="#fa1c1e" stroke="#fff" stroke-width="2.3"/>
<circle cx="155.1" cy="440.3" r="11.5" fill="#fa1c1e" stroke="#fff" stroke-width="2.3"/>
<circle cx="302.4" cy="459.5" r="11.5" fill="#fa1c1e" stroke="#fff" stroke-width="2.3"/>
<circle cx="457.5" cy="430.7" r="11.5" fill="#fa1c1e" stroke="#fff" stroke-width="2.3"/>
<circle cx="456.6" cy="454.2" r="11.5" fill="#fa1c1e" stroke="#fff" stroke-width="2.3"/>
<circle cx="281.9" cy="686.9" r="11.5" fill="#fa1c1e" stroke="#fff" stroke-width="2.3"/>
<circle cx="556" cy="684.8" r="11.5" fill="#fa1c1e" stroke="#fff" stroke-width="2.3"/>
<circle cx="107" cy="885.4" r="11.5" fill="#fa1c1e" stroke="#fff" stroke-width="2.3"/>
<circle cx="281.8" cy="885.7" r="11.5" fill="#fa1c1e" stroke="#fff" stroke-width="2.3"/>
<circle cx="107" cy="1112.8" r="11.5" fill="#fa1c1e" stroke="#fff" stroke-width="2.3"/>
<circle cx="285" cy="1114" r="11.5" fill="#fa1c1e" stroke="#fff" stroke-width="2.3"/>
<g stroke="#fff" stroke-width="1.2" stroke-opacity="0.92" fill="none">
<path d="M361.9 80.4L376.9 73.1"/>
<path d="M166 205.3L302.4 137.5"/>
<path d="M154.8 310.6L147 321"/>
<path d="M153.4 389.8L171.9 373.8"/>
<path d="M155.3 435.1L165.2 423"/>
<path d="M268 459.5L300.3 459.5"/>
<path d="M372.3 419.6L455.7 431"/>
<path d="M424.4 457.9L455.1 453.3"/>
<path d="M282 687.6L280.6 715.4"/>
<path d="M437.4 749.3L555 686"/>
<path d="M135.9 829.3L108.2 882.3"/>
<path d="M279 868L282.2 884"/>
<path d="M122.8 1094L111.2 1108.6"/>
<path d="M232.9 1033.7L283 1111.5"/>
</g>
<g font-size="18" fill="#fff" fill-opacity="0.9">
<text x="378.7" y="66.8" textLength="165" lengthAdjust="spacingAndGlyphs">Sub-Saharan African</text>
<text x="378.7" y="86.4" textLength="64.3" lengthAdjust="spacingAndGlyphs">oilcrops</text>
<text x="306.9" y="141.2" textLength="67.2" lengthAdjust="spacingAndGlyphs">Brazilian</text>
<text x="347" y="159.4" textLength="27.1" lengthAdjust="spacingAndGlyphs">soy</text>
<text x="110.8" y="334.7" textLength="65.9" lengthAdjust="spacingAndGlyphs">Chinese</text>
<text x="148.4" y="353.5" textLength="28.3" lengthAdjust="spacingAndGlyphs">soy</text>
<text x="173.9" y="378" textLength="77.7" lengthAdjust="spacingAndGlyphs">European</text>
<text x="173.9" y="396.8" textLength="27.8" lengthAdjust="spacingAndGlyphs">soy</text>
<text x="166.3" y="427.3" textLength="54" lengthAdjust="spacingAndGlyphs">US soy</text>
<text x="176" y="464.1" textLength="89.5" lengthAdjust="spacingAndGlyphs">Colombian</text>
<text x="200.4" y="482.8" textLength="65.1" lengthAdjust="spacingAndGlyphs">palm oil</text>
<text x="279.9" y="423.3" textLength="89.1" lengthAdjust="spacingAndGlyphs">Indonesian</text>
<text x="303.3" y="441.6" textLength="65.7" lengthAdjust="spacingAndGlyphs">palm oil</text>
<text x="353.7" y="463.5" textLength="67.4" lengthAdjust="spacingAndGlyphs">Brazilian</text>
<text x="356.9" y="482.3" textLength="64.2" lengthAdjust="spacingAndGlyphs">palm oil</text>
<text x="219.9" y="730.7" textLength="127.6" lengthAdjust="spacingAndGlyphs">Coal feedstock,</text>
<text x="200" y="749" textLength="147.5" lengthAdjust="spacingAndGlyphs">current US energy</text>
<text x="357.2" y="768.6" textLength="126.3" lengthAdjust="spacingAndGlyphs">Coal feedstock,</text>
<text x="388.8" y="786.8" textLength="94.7" lengthAdjust="spacingAndGlyphs">coal energy</text>
<text x="108.3" y="803.3" textLength="180.2" lengthAdjust="spacingAndGlyphs">Natural gas feedstock,</text>
<text x="108.3" y="822.7" textLength="138.5" lengthAdjust="spacingAndGlyphs">non-fossil energy</text>
<text x="179" y="845" textLength="178.2" lengthAdjust="spacingAndGlyphs">Natural gas feedstock,</text>
<text x="212.6" y="863.7" textLength="144.6" lengthAdjust="spacingAndGlyphs">current US energy</text>
<text x="110.7" y="1026.6" textLength="147.5" lengthAdjust="spacingAndGlyphs">current US energy</text>
<text x="116.3" y="1086.7" textLength="140.5" lengthAdjust="spacingAndGlyphs">non-fossil energy</text>
<text x="135.5" y="1008.2" textLength="122.7" lengthAdjust="spacingAndGlyphs">CO<tspan font-size="13" dy="4">2</tspan><tspan dy="-4"> feedstock,</tspan></text>
<text x="116.3" y="1068.1" textLength="122.6" lengthAdjust="spacingAndGlyphs">CO<tspan font-size="13" dy="4">2</tspan><tspan dy="-4"> feedstock,</tspan></text>
</g>
</svg></body></html>
